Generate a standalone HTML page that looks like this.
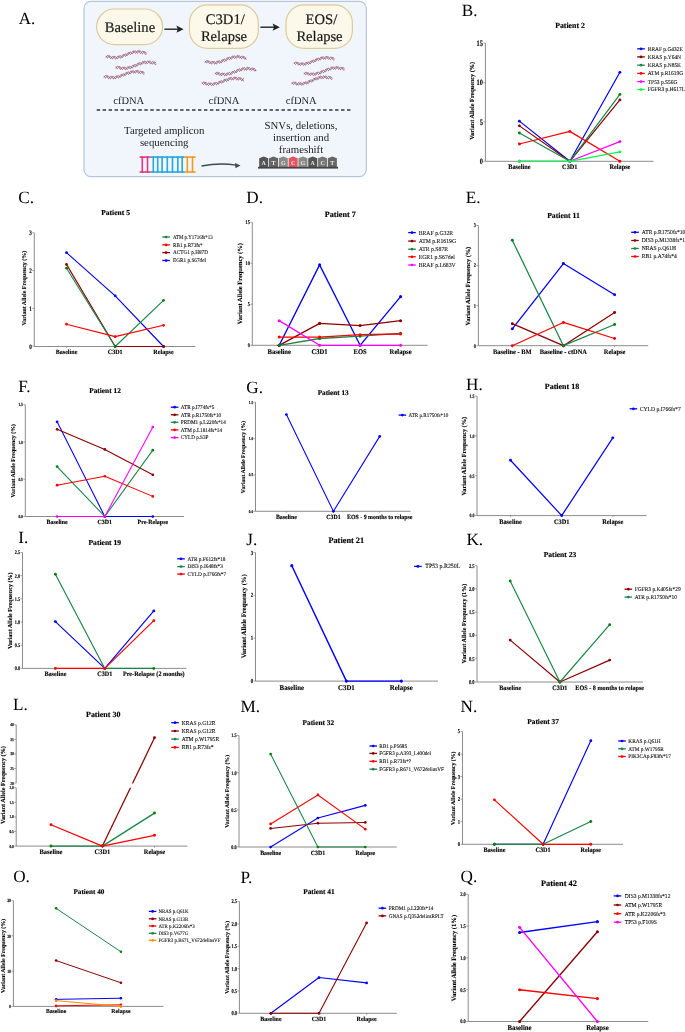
<!DOCTYPE html>
<html><head><meta charset="utf-8"><style>
html,body{margin:0;padding:0;background:#fff;}
svg{display:block;font-family:"Liberation Serif", serif;filter:blur(0.3px);}
text{text-rendering:geometricPrecision;}
</style></head><body>
<svg width="685" height="1032" viewBox="0 0 685 1032">
<rect width="685" height="1032" fill="#fff"/>
<rect x="84" y="1.3" width="282.3" height="175.3" rx="7" ry="7" fill="#f0f6fb" stroke="#b5c6dc" stroke-width="1.2"/>
<rect x="96.6" y="9" width="66" height="35.6" rx="17.8" fill="#fcf8ea" stroke="#dccb9b" stroke-width="1.2"/>
<rect x="189.5" y="4.8" width="68.8" height="43.6" rx="18" fill="#fcf8ea" stroke="#dccb9b" stroke-width="1.2"/>
<rect x="286" y="4.8" width="66.4" height="43.6" rx="18" fill="#fcf8ea" stroke="#dccb9b" stroke-width="1.2"/>
<text x="130.00" y="31.80" font-size="14.6" text-anchor="middle" fill="#1a1a1a" stroke="#1a1a1a" stroke-width="0.2">Baseline</text>
<text x="225.30" y="23.90" font-size="14.6" text-anchor="middle" fill="#1a1a1a" stroke="#1a1a1a" stroke-width="0.2">C3D1/</text>
<text x="224.00" y="40.80" font-size="14.6" text-anchor="middle" fill="#1a1a1a" stroke="#1a1a1a" stroke-width="0.2">Relapse</text>
<text x="321.40" y="23.90" font-size="14.6" text-anchor="middle" fill="#1a1a1a" stroke="#1a1a1a" stroke-width="0.2">EOS/</text>
<text x="319.50" y="40.80" font-size="14.6" text-anchor="middle" fill="#1a1a1a" stroke="#1a1a1a" stroke-width="0.2">Relapse</text>
<line x1="164.4" y1="29.2" x2="178.6" y2="29.2" stroke="#222" stroke-width="1.4"/>
<path d="M183.6,29.2 L176.4,25.599999999999998 L177.79999999999998,29.2 L176.4,32.8 Z" fill="#222"/>
<line x1="260.4" y1="27.2" x2="274.8" y2="27.2" stroke="#222" stroke-width="1.4"/>
<path d="M279.8,27.2 L272.6,23.599999999999998 L274.0,27.2 L272.6,30.8 Z" fill="#222"/>
<text x="128.70" y="103.50" font-size="10.5" text-anchor="middle" fill="#222" >cfDNA</text>
<text x="224.00" y="103.50" font-size="10.5" text-anchor="middle" fill="#222" >cfDNA</text>
<text x="301.20" y="103.50" font-size="10.5" text-anchor="middle" fill="#222" >cfDNA</text>
<line x1="96.7" y1="110" x2="351.2" y2="110" stroke="#333" stroke-width="1.5" stroke-dasharray="3.4,2.56"/>
<text x="164.20" y="134.30" font-size="10.8" text-anchor="middle" fill="#222" >Targeted amplicon</text>
<text x="164.20" y="146.20" font-size="10.8" text-anchor="middle" fill="#222" >sequencing</text>
<text x="301.00" y="128.50" font-size="10.8" text-anchor="middle" fill="#222" >SNVs, deletions,</text>
<text x="301.00" y="141.00" font-size="10.8" text-anchor="middle" fill="#222" >insertion and</text>
<text x="301.00" y="153.10" font-size="10.8" text-anchor="middle" fill="#222" >frameshift</text>
<polyline points="106.20,56.20 106.53,56.81 106.87,57.33 107.20,57.69 107.53,57.83 107.86,57.75 108.20,57.47 108.53,57.06 108.86,56.59 109.19,56.17 109.53,55.88 109.86,55.78 110.19,55.89 110.52,56.22 110.86,56.71 111.19,57.29 111.52,57.87 111.85,58.36 112.19,58.68 112.52,58.78 112.85,58.66 113.18,58.33 113.52,57.87 113.85,57.35 114.18,56.86 114.51,56.50 114.84,56.32 115.18,56.35 115.51,56.60 115.84,57.01 116.17,57.51 116.51,58.01 116.84,58.42 117.17,58.67 117.50,58.70 117.84,58.50 118.17,58.10 118.50,57.55 118.83,56.95 119.17,56.38 119.50,55.92 119.83,55.65 120.16,55.60 120.50,55.75 120.83,56.08 121.16,56.50 121.50,56.93 121.83,57.27 122.16,57.45 122.49,57.42 122.83,57.16 123.16,56.70 123.49,56.09 123.82,55.43 124.16,54.80 124.49,54.28 124.82,53.95 125.15,53.85 125.48,53.95 125.82,54.23 126.15,54.62 126.48,55.02 126.81,55.34 127.15,55.50 127.48,55.46 127.81,55.20 128.15,54.74 128.48,54.13 128.81,53.47 129.14,52.84 129.47,52.32 129.81,52.00 130.14,51.90 130.47,52.02 130.81,52.33 131.14,52.74 131.47,53.17 131.80,53.54 132.13,53.75 132.47,53.76 132.80,53.56 133.13,53.15 133.47,52.61 133.80,52.01 134.13,51.43 134.46,50.98 134.79,50.72 135.13,50.68 135.46,50.87 135.79,51.24 136.12,51.73 136.46,52.24 136.79,52.69 137.12,52.99 137.45,53.10 137.79,52.98 138.12,52.67 138.45,52.21 138.78,51.69 139.12,51.20 139.45,50.83 139.78,50.64 140.12,50.68 140.45,50.94 140.78,51.38 141.11,51.95 141.44,52.54 141.78,53.07 142.11,53.45 142.44,53.63 142.77,53.59 143.11,53.35 143.44,52.96 143.77,52.50 144.10,52.07 144.44,51.74 144.77,51.60 145.10,51.67 145.44,51.96 145.77,52.44 146.10,53.04" fill="none" stroke="#4a7db5" stroke-width="1.0" stroke-linecap="round"/>
<polyline points="106.20,57.12 106.53,56.75 106.87,56.30 107.20,55.87 107.53,55.53 107.86,55.36 108.20,55.41 108.53,55.68 108.86,56.14 109.19,56.71 109.53,57.32 109.86,57.88 110.19,58.29 110.52,58.49 110.86,58.48 111.19,58.24 111.52,57.85 111.85,57.36 112.19,56.88 112.52,56.49 112.85,56.27 113.18,56.26 113.52,56.46 113.85,56.85 114.18,57.36 114.51,57.91 114.84,58.39 115.18,58.74 115.51,58.88 115.84,58.80 116.17,58.50 116.51,58.03 116.84,57.46 117.17,56.90 117.50,56.42 117.84,56.11 118.17,56.01 118.50,56.12 118.83,56.42 119.17,56.84 119.50,57.30 119.83,57.71 120.16,57.98 120.50,58.05 120.83,57.89 121.16,57.52 121.50,56.98 121.83,56.34 122.16,55.70 122.49,55.15 122.83,54.76 123.16,54.59 123.49,54.63 123.82,54.86 124.16,55.22 124.49,55.63 124.82,55.99 125.15,56.22 125.48,56.26 125.82,56.08 126.15,55.68 126.48,55.11 126.81,54.45 127.15,53.78 127.48,53.21 127.81,52.80 128.15,52.61 128.48,52.64 128.81,52.86 129.14,53.23 129.47,53.64 129.81,54.02 130.14,54.28 130.47,54.34 130.81,54.19 131.14,53.83 131.47,53.30 131.80,52.68 132.13,52.06 132.47,51.52 132.80,51.16 133.13,51.01 133.47,51.08 133.80,51.36 134.13,51.79 134.46,52.27 134.79,52.72 135.13,53.05 135.46,53.20 135.79,53.13 136.12,52.85 136.46,52.41 136.79,51.87 137.12,51.33 137.45,50.87 137.79,50.58 138.12,50.50 138.45,50.66 138.78,51.02 139.12,51.52 139.45,52.08 139.78,52.62 140.12,53.04 140.45,53.28 140.78,53.30 141.11,53.10 141.44,52.74 141.78,52.28 142.11,51.81 142.44,51.42 142.77,51.19 143.11,51.17 143.44,51.38 143.77,51.79 144.10,52.35 144.44,52.96 144.77,53.55 145.10,54.02 145.44,54.31 145.77,54.38 146.10,54.23" fill="none" stroke="#dc414b" stroke-width="1.0" stroke-linecap="round"/>
<polyline points="116.00,67.00 116.33,67.61 116.66,68.12 117.00,68.47 117.33,68.61 117.66,68.53 117.99,68.25 118.32,67.84 118.65,67.37 118.98,66.95 119.32,66.65 119.65,66.53 119.98,66.64 120.31,66.95 120.64,67.43 120.97,68.01 121.31,68.58 121.64,69.07 121.97,69.39 122.30,69.50 122.63,69.39 122.97,69.07 123.30,68.61 123.63,68.08 123.96,67.59 124.29,67.21 124.62,67.01 124.95,67.03 125.29,67.26 125.62,67.65 125.95,68.14 126.28,68.64 126.61,69.06 126.95,69.32 127.28,69.36 127.61,69.18 127.94,68.79 128.27,68.25 128.60,67.64 128.94,67.06 129.27,66.58 129.60,66.29 129.93,66.21 130.26,66.34 130.59,66.64 130.93,67.05 131.26,67.48 131.59,67.83 131.92,68.02 132.25,68.01 132.58,67.78 132.91,67.34 133.25,66.74 133.58,66.08 133.91,65.43 134.24,64.90 134.57,64.54 134.91,64.39 135.24,64.46 135.57,64.72 135.90,65.09 136.23,65.48 136.56,65.82 136.90,66.01 137.23,66.00 137.56,65.76 137.89,65.33 138.22,64.74 138.55,64.08 138.88,63.43 139.22,62.89 139.55,62.53 139.88,62.38 140.21,62.46 140.54,62.73 140.88,63.12 141.21,63.56 141.54,63.94 141.87,64.18 142.20,64.23 142.53,64.07 142.87,63.70 143.20,63.17 143.53,62.57 143.86,61.98 144.19,61.50 144.52,61.19 144.86,61.10 145.19,61.24 145.52,61.57 145.85,62.03 146.18,62.54 146.51,63.01 146.84,63.35 147.18,63.50 147.51,63.43 147.84,63.16 148.17,62.73 148.50,62.22 148.84,61.71 149.17,61.30 149.50,61.06 149.83,61.03 150.16,61.23 150.49,61.63 150.83,62.17 151.16,62.76 151.49,63.31 151.82,63.73 152.15,63.97 152.48,63.99 152.81,63.79 153.15,63.44 153.48,62.99 153.81,62.53 154.14,62.16 154.47,61.96 154.81,61.96 155.14,62.19 155.47,62.61 155.80,63.18" fill="none" stroke="#4a7db5" stroke-width="1.0" stroke-linecap="round"/>
<polyline points="116.00,67.92 116.33,67.55 116.66,67.10 117.00,66.66 117.33,66.32 117.66,66.15 117.99,66.19 118.32,66.45 118.65,66.89 118.98,67.46 119.32,68.07 119.65,68.62 119.98,69.03 120.31,69.24 120.64,69.22 120.97,69.00 121.31,68.60 121.64,68.11 121.97,67.63 122.30,67.23 122.63,66.99 122.97,66.97 123.30,67.16 123.63,67.53 123.96,68.03 124.29,68.57 124.62,69.06 124.95,69.41 125.29,69.56 125.62,69.49 125.95,69.20 126.28,68.74 126.61,68.17 126.95,67.60 127.28,67.11 127.61,66.78 127.94,66.65 128.27,66.74 128.60,67.02 128.94,67.43 129.27,67.88 129.60,68.29 129.93,68.58 130.26,68.66 130.59,68.53 130.93,68.17 131.26,67.64 131.59,67.01 131.92,66.36 132.25,65.79 132.58,65.38 132.91,65.17 133.25,65.18 133.58,65.38 133.91,65.73 134.24,66.13 134.57,66.50 134.91,66.75 135.24,66.81 135.57,66.65 135.90,66.28 136.23,65.73 136.56,65.07 136.90,64.40 137.23,63.80 137.56,63.36 137.89,63.13 138.22,63.11 138.55,63.31 138.88,63.65 139.22,64.06 139.55,64.44 139.88,64.72 140.21,64.82 140.54,64.71 140.88,64.38 141.21,63.88 141.54,63.26 141.87,62.63 142.20,62.07 142.53,61.67 142.87,61.47 143.20,61.49 143.53,61.73 143.86,62.13 144.19,62.60 144.52,63.06 144.86,63.42 145.19,63.61 145.52,63.59 145.85,63.35 146.18,62.94 146.51,62.41 146.84,61.86 147.18,61.37 147.51,61.04 147.84,60.90 148.17,61.00 148.50,61.31 148.84,61.78 149.17,62.33 149.50,62.88 149.83,63.33 150.16,63.62 150.49,63.69 150.83,63.55 151.16,63.22 151.49,62.78 151.82,62.30 152.15,61.88 152.48,61.60 152.81,61.51 153.15,61.65 153.48,62.01 153.81,62.52 154.14,63.13 154.47,63.73 154.81,64.24 155.14,64.58 155.47,64.71 155.80,64.62" fill="none" stroke="#dc414b" stroke-width="1.0" stroke-linecap="round"/>
<polyline points="104.20,76.20 104.53,76.81 104.86,77.33 105.20,77.68 105.53,77.82 105.86,77.74 106.19,77.47 106.52,77.05 106.85,76.59 107.19,76.17 107.52,75.87 107.85,75.76 108.18,75.87 108.51,76.19 108.84,76.67 109.17,77.24 109.51,77.82 109.84,78.31 110.17,78.64 110.50,78.75 110.83,78.64 111.17,78.32 111.50,77.86 111.83,77.34 112.16,76.85 112.49,76.47 112.82,76.28 113.16,76.30 113.49,76.53 113.82,76.92 114.15,77.42 114.48,77.92 114.81,78.34 115.15,78.60 115.48,78.65 115.81,78.47 116.14,78.08 116.47,77.54 116.80,76.94 117.14,76.36 117.47,75.88 117.80,75.59 118.13,75.51 118.46,75.64 118.79,75.95 119.12,76.36 119.46,76.79 119.79,77.14 120.12,77.34 120.45,77.34 120.78,77.10 121.12,76.67 121.45,76.07 121.78,75.41 122.11,74.77 122.44,74.23 122.77,73.88 123.11,73.73 123.44,73.81 123.77,74.07 124.10,74.44 124.43,74.84 124.76,75.17 125.09,75.36 125.43,75.36 125.76,75.13 126.09,74.69 126.42,74.11 126.75,73.45 127.09,72.80 127.42,72.26 127.75,71.90 128.08,71.76 128.41,71.84 128.74,72.12 129.07,72.51 129.41,72.95 129.74,73.33 130.07,73.58 130.40,73.63 130.73,73.47 131.06,73.10 131.40,72.58 131.73,71.98 132.06,71.39 132.39,70.91 132.72,70.60 133.06,70.52 133.39,70.66 133.72,70.99 134.05,71.46 134.38,71.97 134.71,72.44 135.05,72.78 135.38,72.93 135.71,72.87 136.04,72.60 136.37,72.17 136.70,71.66 137.03,71.16 137.37,70.75 137.70,70.51 138.03,70.49 138.36,70.69 138.69,71.09 139.03,71.63 139.36,72.22 139.69,72.77 140.02,73.20 140.35,73.44 140.68,73.46 141.01,73.27 141.35,72.92 141.68,72.47 142.01,72.02 142.34,71.65 142.67,71.45 143.00,71.45 143.34,71.68 143.67,72.11 144.00,72.68" fill="none" stroke="#4a7db5" stroke-width="1.0" stroke-linecap="round"/>
<polyline points="104.20,77.12 104.53,76.75 104.86,76.30 105.20,75.87 105.53,75.53 105.86,75.36 106.19,75.40 106.52,75.67 106.85,76.11 107.19,76.69 107.52,77.29 107.85,77.85 108.18,78.26 108.51,78.47 108.84,78.46 109.17,78.23 109.51,77.84 109.84,77.36 110.17,76.87 110.50,76.48 110.83,76.24 111.17,76.22 111.50,76.41 111.83,76.79 112.16,77.29 112.49,77.83 112.82,78.32 113.16,78.68 113.49,78.83 113.82,78.76 114.15,78.48 114.48,78.01 114.81,77.45 115.15,76.89 115.48,76.40 115.81,76.07 116.14,75.94 116.47,76.03 116.80,76.31 117.14,76.72 117.47,77.18 117.80,77.60 118.13,77.88 118.46,77.97 118.79,77.84 119.12,77.49 119.46,76.96 119.79,76.33 120.12,75.68 120.45,75.12 120.78,74.70 121.12,74.50 121.45,74.51 121.78,74.71 122.11,75.06 122.44,75.47 122.77,75.84 123.11,76.09 123.44,76.15 123.77,76.00 124.10,75.63 124.43,75.08 124.76,74.43 125.09,73.76 125.43,73.16 125.76,72.72 126.09,72.49 126.42,72.48 126.75,72.68 127.09,73.02 127.42,73.43 127.75,73.82 128.08,74.10 128.41,74.20 128.74,74.09 129.07,73.77 129.41,73.27 129.74,72.66 130.07,72.03 130.40,71.47 130.73,71.07 131.06,70.87 131.40,70.90 131.73,71.14 132.06,71.54 132.39,72.01 132.72,72.48 133.06,72.84 133.39,73.03 133.72,73.01 134.05,72.78 134.38,72.36 134.71,71.84 135.05,71.29 135.38,70.81 135.71,70.47 136.04,70.34 136.37,70.44 136.70,70.75 137.03,71.23 137.37,71.78 137.70,72.33 138.03,72.79 138.36,73.07 138.69,73.15 139.03,73.01 139.36,72.69 139.69,72.25 140.02,71.77 140.35,71.35 140.68,71.07 141.01,70.99 141.35,71.13 141.68,71.49 142.01,72.01 142.34,72.62 142.67,73.22 143.00,73.73 143.34,74.08 143.67,74.21 144.00,74.12" fill="none" stroke="#dc414b" stroke-width="1.0" stroke-linecap="round"/>
<polyline points="205.30,61.30 205.64,61.92 205.98,62.45 206.32,62.80 206.66,62.92 207.00,62.82 207.34,62.51 207.67,62.08 208.01,61.60 208.35,61.19 208.69,60.92 209.03,60.86 209.37,61.03 209.71,61.41 210.05,61.94 210.39,62.54 210.73,63.11 211.07,63.56 211.41,63.81 211.74,63.83 212.08,63.62 212.42,63.22 212.76,62.71 213.10,62.19 213.44,61.74 213.78,61.46 214.12,61.39 214.46,61.54 214.80,61.90 215.14,62.38 215.48,62.91 215.81,63.38 216.15,63.70 216.49,63.82 216.83,63.70 217.17,63.35 217.51,62.83 217.85,62.22 218.19,61.63 218.53,61.13 218.87,60.82 219.21,60.73 219.55,60.86 219.88,61.17 220.22,61.60 220.56,62.04 220.90,62.41 221.24,62.61 221.58,62.59 221.92,62.34 222.26,61.88 222.60,61.26 222.94,60.59 223.28,59.95 223.62,59.44 223.95,59.13 224.29,59.05 224.63,59.19 224.97,59.50 225.31,59.90 225.65,60.30 225.99,60.60 226.33,60.73 226.67,60.63 227.01,60.30 227.35,59.78 227.69,59.13 228.02,58.46 228.36,57.84 228.70,57.39 229.04,57.14 229.38,57.13 229.72,57.34 230.06,57.71 230.40,58.14 230.74,58.56 231.08,58.85 231.42,58.96 231.75,58.84 232.09,58.51 232.43,57.99 232.77,57.38 233.11,56.77 233.45,56.25 233.79,55.90 234.13,55.78 234.47,55.90 234.81,56.22 235.15,56.69 235.49,57.20 235.82,57.67 236.16,58.00 236.50,58.13 236.84,58.04 237.18,57.73 237.52,57.26 237.86,56.72 238.20,56.21 238.54,55.81 238.88,55.60 239.22,55.63 239.56,55.88 239.90,56.33 240.23,56.90 240.57,57.49 240.91,58.01 241.25,58.37 241.59,58.51 241.93,58.43 242.27,58.14 242.61,57.72 242.95,57.24 243.29,56.81 243.63,56.51 243.97,56.41 244.30,56.55 244.64,56.91 244.98,57.44 245.32,58.07 245.66,58.69 246.00,59.20" fill="none" stroke="#4a7db5" stroke-width="1.0" stroke-linecap="round"/>
<polyline points="205.30,62.22 205.64,61.84 205.98,61.38 206.32,60.94 206.66,60.60 207.00,60.45 207.34,60.52 207.67,60.82 208.01,61.30 208.35,61.90 208.69,62.52 209.03,63.06 209.37,63.43 209.71,63.58 210.05,63.50 210.39,63.21 210.73,62.77 211.07,62.26 211.41,61.80 211.74,61.46 212.08,61.31 212.42,61.39 212.76,61.69 213.10,62.15 213.44,62.70 213.78,63.24 214.12,63.68 214.46,63.93 214.80,63.95 215.14,63.74 215.48,63.32 215.81,62.78 216.15,62.19 216.49,61.67 216.83,61.29 217.17,61.12 217.51,61.18 217.85,61.44 218.19,61.86 218.53,62.33 218.87,62.77 219.21,63.08 219.55,63.20 219.88,63.08 220.22,62.73 220.56,62.19 220.90,61.55 221.24,60.90 221.58,60.34 221.92,59.94 222.26,59.77 222.60,59.81 222.94,60.06 223.28,60.44 223.62,60.86 223.95,61.22 224.29,61.44 224.63,61.45 224.97,61.23 225.31,60.79 225.65,60.19 225.99,59.51 226.33,58.85 226.67,58.30 227.01,57.94 227.35,57.81 227.69,57.90 228.02,58.19 228.36,58.59 228.70,59.01 229.04,59.35 229.38,59.53 229.72,59.50 230.06,59.24 230.40,58.78 230.74,58.18 231.08,57.53 231.42,56.93 231.75,56.46 232.09,56.20 232.43,56.18 232.77,56.39 233.11,56.76 233.45,57.24 233.79,57.71 234.13,58.08 234.47,58.28 234.81,58.26 235.15,58.02 235.49,57.59 235.82,57.04 236.16,56.47 236.50,55.97 236.84,55.64 237.18,55.52 237.52,55.64 237.86,55.98 238.20,56.47 238.54,57.03 238.88,57.57 239.22,57.99 239.56,58.22 239.90,58.22 240.23,58.00 240.57,57.61 240.91,57.12 241.25,56.64 241.59,56.25 241.93,56.04 242.27,56.05 242.61,56.30 242.95,56.75 243.29,57.33 243.63,57.95 243.97,58.52 244.30,58.95 244.64,59.17 244.98,59.15 245.32,58.93 245.66,58.54 246.00,58.08" fill="none" stroke="#dc414b" stroke-width="1.0" stroke-linecap="round"/>
<polyline points="215.40,73.00 215.74,73.62 216.07,74.14 216.41,74.49 216.75,74.63 217.08,74.53 217.42,74.24 217.76,73.81 218.09,73.34 218.43,72.93 218.77,72.65 219.10,72.57 219.44,72.72 219.78,73.08 220.11,73.60 220.45,74.19 220.79,74.77 221.12,75.23 221.46,75.51 221.80,75.56 222.13,75.39 222.47,75.01 222.81,74.52 223.14,73.99 223.48,73.53 223.82,73.22 224.15,73.10 224.49,73.22 224.83,73.53 225.16,73.99 225.50,74.51 225.84,75.00 226.17,75.36 226.51,75.53 226.85,75.46 227.18,75.17 227.52,74.69 227.86,74.11 228.19,73.50 228.53,72.97 228.87,72.60 229.20,72.44 229.54,72.50 229.88,72.76 230.21,73.16 230.55,73.60 230.89,74.00 231.22,74.26 231.56,74.33 231.90,74.16 232.23,73.77 232.57,73.20 232.91,72.54 233.24,71.88 233.58,71.32 233.92,70.92 234.25,70.75 234.59,70.80 234.93,71.04 235.26,71.41 235.60,71.82 235.94,72.18 236.27,72.39 236.61,72.39 236.95,72.17 237.28,71.74 237.62,71.15 237.96,70.48 238.29,69.83 238.63,69.29 238.97,68.93 239.30,68.81 239.64,68.90 239.98,69.19 240.31,69.60 240.65,70.04 240.99,70.41 241.32,70.63 241.66,70.65 242.00,70.44 242.33,70.03 242.67,69.47 243.01,68.86 243.34,68.28 243.68,67.82 244.02,67.56 244.35,67.54 244.69,67.74 245.03,68.12 245.36,68.62 245.70,69.13 246.04,69.56 246.37,69.83 246.71,69.90 247.05,69.74 247.38,69.38 247.72,68.89 248.06,68.36 248.39,67.88 248.73,67.53 249.07,67.39 249.40,67.48 249.74,67.79 250.08,68.28 250.41,68.86 250.75,69.44 251.09,69.93 251.42,70.25 251.76,70.35 252.10,70.23 252.43,69.92 252.77,69.48 253.11,69.01 253.44,68.60 253.78,68.34 254.12,68.28 254.45,68.46 254.79,68.84 255.13,69.39 255.46,70.02 255.80,70.63" fill="none" stroke="#4a7db5" stroke-width="1.0" stroke-linecap="round"/>
<polyline points="215.40,73.92 215.74,73.55 216.07,73.09 216.41,72.65 216.75,72.31 217.08,72.16 217.42,72.22 217.76,72.51 218.09,72.98 218.43,73.57 218.77,74.19 219.10,74.73 219.44,75.12 219.78,75.30 220.11,75.24 220.45,74.97 220.79,74.54 221.12,74.05 221.46,73.57 221.80,73.21 222.13,73.04 222.47,73.08 222.81,73.35 223.14,73.79 223.48,74.32 223.82,74.87 224.15,75.33 224.49,75.62 224.83,75.69 225.16,75.52 225.50,75.15 225.84,74.63 226.17,74.05 226.51,73.50 226.85,73.09 227.18,72.86 227.52,72.86 227.86,73.07 228.19,73.44 228.53,73.90 228.87,74.36 229.20,74.71 229.54,74.89 229.88,74.85 230.21,74.57 230.55,74.09 230.89,73.48 231.22,72.83 231.56,72.22 231.90,71.76 232.23,71.50 232.57,71.47 232.91,71.64 233.24,71.98 233.58,72.39 233.92,72.78 234.25,73.07 234.59,73.17 234.93,73.05 235.26,72.70 235.60,72.16 235.94,71.51 236.27,70.83 236.61,70.22 236.95,69.77 237.28,69.53 237.62,69.52 237.96,69.72 238.29,70.07 238.63,70.49 238.97,70.89 239.30,71.16 239.64,71.25 239.98,71.11 240.31,70.76 240.65,70.23 240.99,69.60 241.32,68.97 241.66,68.42 242.00,68.04 242.33,67.88 242.67,67.96 243.01,68.24 243.34,68.67 243.68,69.15 244.02,69.60 244.35,69.92 244.69,70.04 245.03,69.95 245.36,69.64 245.70,69.17 246.04,68.61 246.37,68.06 246.71,67.61 247.05,67.35 247.38,67.31 247.72,67.50 248.06,67.89 248.39,68.42 248.73,68.99 249.07,69.50 249.40,69.87 249.74,70.05 250.08,70.00 250.41,69.74 250.75,69.33 251.09,68.84 251.42,68.38 251.76,68.03 252.10,67.86 252.43,67.93 252.77,68.22 253.11,68.69 253.44,69.29 253.78,69.91 254.12,70.46 254.45,70.86 254.79,71.05 255.13,71.01 255.46,70.76 255.80,70.36" fill="none" stroke="#dc414b" stroke-width="1.0" stroke-linecap="round"/>
<polyline points="202.20,82.80 202.54,83.43 202.89,83.96 203.23,84.30 203.58,84.42 203.92,84.29 204.27,83.96 204.61,83.51 204.96,83.03 205.30,82.63 205.65,82.38 205.99,82.36 206.34,82.58 206.69,83.00 207.03,83.57 207.38,84.18 207.72,84.74 208.06,85.14 208.41,85.33 208.75,85.28 209.10,84.99 209.44,84.54 209.79,84.00 210.13,83.49 210.48,83.10 210.82,82.90 211.17,82.93 211.51,83.19 211.86,83.63 212.20,84.16 212.55,84.68 212.89,85.09 213.24,85.32 213.58,85.30 213.93,85.05 214.27,84.59 214.62,84.00 214.97,83.38 215.31,82.84 215.66,82.45 216.00,82.29 216.34,82.36 216.69,82.64 217.03,83.05 217.38,83.52 217.72,83.92 218.07,84.17 218.41,84.21 218.76,84.00 219.10,83.56 219.45,82.96 219.79,82.28 220.14,81.63 220.48,81.10 220.83,80.77 221.17,80.67 221.52,80.81 221.86,81.12 222.21,81.54 222.55,81.95 222.90,82.25 223.25,82.37 223.59,82.26 223.94,81.91 224.28,81.36 224.62,80.70 224.97,80.01 225.31,79.41 225.66,78.97 226.00,78.77 226.35,78.80 226.69,79.05 227.04,79.45 227.38,79.89 227.73,80.29 228.07,80.54 228.42,80.58 228.76,80.38 229.11,79.96 229.45,79.39 229.80,78.75 230.14,78.15 230.49,77.67 230.83,77.41 231.18,77.39 231.53,77.60 231.87,78.00 232.22,78.50 232.56,79.01 232.91,79.41 233.25,79.63 233.59,79.63 233.94,79.40 234.28,78.97 234.63,78.43 234.97,77.88 235.32,77.41 235.66,77.12 236.01,77.05 236.35,77.24 236.70,77.63 237.04,78.18 237.39,78.77 237.73,79.32 238.08,79.71 238.43,79.90 238.77,79.85 239.12,79.59 239.46,79.16 239.81,78.67 240.15,78.21 240.50,77.89 240.84,77.76 241.19,77.88 241.53,78.24 241.88,78.77 242.22,79.40 242.56,80.02 242.91,80.54 243.25,80.88 243.60,80.98" fill="none" stroke="#4a7db5" stroke-width="1.0" stroke-linecap="round"/>
<polyline points="202.20,83.72 202.54,83.33 202.89,82.86 203.23,82.41 203.58,82.08 203.92,81.94 204.27,82.03 204.61,82.36 204.96,82.87 205.30,83.49 205.65,84.11 205.99,84.63 206.34,84.97 206.69,85.07 207.03,84.94 207.38,84.59 207.72,84.12 208.06,83.61 208.41,83.16 208.75,82.87 209.10,82.80 209.44,82.97 209.79,83.34 210.13,83.86 210.48,84.43 210.82,84.95 211.17,85.32 211.51,85.47 211.86,85.38 212.20,85.06 212.55,84.57 212.89,83.98 213.24,83.41 213.58,82.96 213.93,82.70 214.27,82.67 214.62,82.86 214.97,83.24 215.31,83.71 215.66,84.19 216.00,84.56 216.34,84.75 216.69,84.70 217.03,84.41 217.38,83.91 217.72,83.29 218.07,82.62 218.41,82.03 218.76,81.59 219.10,81.38 219.45,81.40 219.79,81.63 220.14,82.01 220.48,82.44 220.83,82.82 221.17,83.06 221.52,83.09 221.86,82.87 222.21,82.43 222.55,81.82 222.90,81.13 223.25,80.46 223.59,79.91 223.94,79.56 224.28,79.45 224.62,79.58 224.97,79.89 225.31,80.30 225.66,80.72 226.00,81.04 226.35,81.19 226.69,81.11 227.04,80.79 227.38,80.28 227.73,79.64 228.07,78.98 228.42,78.39 228.76,77.98 229.11,77.79 229.45,77.84 229.80,78.12 230.14,78.54 230.49,79.03 230.83,79.47 231.18,79.78 231.53,79.87 231.87,79.74 232.22,79.38 232.56,78.86 232.91,78.27 233.25,77.71 233.59,77.28 233.94,77.05 234.28,77.07 234.63,77.32 234.97,77.76 235.32,78.31 235.66,78.87 236.01,79.34 236.35,79.62 236.70,79.68 237.04,79.51 237.39,79.14 237.73,78.65 238.08,78.14 238.43,77.71 238.77,77.45 239.12,77.42 239.46,77.62 239.81,78.05 240.15,78.62 240.50,79.25 240.84,79.84 241.19,80.28 241.53,80.50 241.88,80.49 242.22,80.26 242.56,79.87 242.91,79.39 243.25,78.95 243.60,78.62" fill="none" stroke="#dc414b" stroke-width="1.0" stroke-linecap="round"/>
<polyline points="294.20,62.80 294.53,63.40 294.86,63.92 295.19,64.26 295.53,64.40 295.86,64.31 296.19,64.03 296.52,63.61 296.85,63.15 297.19,62.72 297.52,62.41 297.85,62.30 298.18,62.40 298.51,62.71 298.84,63.19 299.18,63.76 299.51,64.33 299.84,64.81 300.17,65.13 300.50,65.24 300.83,65.12 301.16,64.80 301.50,64.33 301.83,63.80 302.16,63.31 302.49,62.93 302.82,62.73 303.15,62.74 303.49,62.96 303.82,63.35 304.15,63.84 304.48,64.34 304.81,64.75 305.14,65.01 305.48,65.05 305.81,64.86 306.14,64.47 306.47,63.93 306.80,63.32 307.13,62.73 307.47,62.25 307.80,61.95 308.13,61.87 308.46,61.99 308.79,62.29 309.12,62.70 309.46,63.12 309.79,63.47 310.12,63.66 310.45,63.65 310.78,63.41 311.12,62.97 311.45,62.37 311.78,61.70 312.11,61.05 312.44,60.51 312.77,60.15 313.11,60.00 313.44,60.07 313.77,60.32 314.10,60.69 314.43,61.08 314.76,61.41 315.09,61.60 315.43,61.58 315.76,61.35 316.09,60.91 316.42,60.32 316.75,59.65 317.08,59.00 317.42,58.46 317.75,58.09 318.08,57.94 318.41,58.02 318.74,58.28 319.07,58.67 319.41,59.10 319.74,59.48 320.07,59.72 320.40,59.77 320.73,59.60 321.06,59.23 321.40,58.70 321.73,58.10 322.06,57.50 322.39,57.02 322.72,56.70 323.06,56.61 323.39,56.74 323.72,57.07 324.05,57.53 324.38,58.04 324.71,58.50 325.05,58.84 325.38,58.99 325.71,58.92 326.04,58.64 326.37,58.21 326.70,57.69 327.03,57.18 327.37,56.77 327.70,56.52 328.03,56.49 328.36,56.69 328.69,57.09 329.02,57.62 329.36,58.20 329.69,58.75 330.02,59.17 330.35,59.40 330.68,59.42 331.01,59.22 331.35,58.86 331.68,58.41 332.01,57.95 332.34,57.58 332.67,57.37 333.00,57.37 333.34,57.60 333.67,58.02 334.00,58.58" fill="none" stroke="#4a7db5" stroke-width="1.0" stroke-linecap="round"/>
<polyline points="294.20,63.72 294.53,63.35 294.86,62.89 295.19,62.45 295.53,62.10 295.86,61.93 296.19,61.97 296.52,62.22 296.85,62.67 297.19,63.23 297.52,63.84 297.85,64.38 298.18,64.79 298.51,64.99 298.84,64.98 299.18,64.75 299.51,64.35 299.84,63.86 300.17,63.37 300.50,62.97 300.83,62.73 301.16,62.70 301.50,62.88 301.83,63.25 302.16,63.75 302.49,64.29 302.82,64.77 303.15,65.12 303.49,65.27 303.82,65.19 304.15,64.90 304.48,64.43 304.81,63.87 305.14,63.29 305.48,62.80 305.81,62.46 306.14,62.33 306.47,62.42 306.80,62.69 307.13,63.10 307.47,63.55 307.80,63.96 308.13,64.24 308.46,64.32 308.79,64.18 309.12,63.82 309.46,63.29 309.79,62.65 310.12,62.00 310.45,61.43 310.78,61.01 311.12,60.80 311.45,60.80 311.78,61.01 312.11,61.35 312.44,61.75 312.77,62.11 313.11,62.36 313.44,62.41 313.77,62.25 314.10,61.88 314.43,61.32 314.76,60.67 315.09,59.99 315.43,59.39 315.76,58.95 316.09,58.71 316.42,58.69 316.75,58.88 317.08,59.22 317.42,59.62 317.75,60.01 318.08,60.28 318.41,60.38 318.74,60.26 319.07,59.93 319.41,59.42 319.74,58.81 320.07,58.17 320.40,57.61 320.73,57.20 321.06,57.00 321.40,57.02 321.73,57.26 322.06,57.65 322.39,58.12 322.72,58.57 323.06,58.93 323.39,59.12 323.72,59.09 324.05,58.85 324.38,58.43 324.71,57.90 325.05,57.35 325.38,56.86 325.71,56.52 326.04,56.38 326.37,56.48 326.70,56.78 327.03,57.25 327.37,57.80 327.70,58.34 328.03,58.79 328.36,59.07 328.69,59.15 329.02,59.00 329.36,58.67 329.69,58.22 330.02,57.74 330.35,57.31 330.68,57.03 331.01,56.94 331.35,57.08 331.68,57.43 332.01,57.94 332.34,58.55 332.67,59.14 333.00,59.65 333.34,59.99 333.67,60.11 334.00,60.02" fill="none" stroke="#dc414b" stroke-width="1.0" stroke-linecap="round"/>
<polyline points="304.30,73.00 304.63,73.60 304.96,74.12 305.30,74.46 305.63,74.60 305.96,74.51 306.29,74.23 306.62,73.81 306.95,73.34 307.29,72.91 307.62,72.60 307.95,72.49 308.28,72.59 308.61,72.90 308.94,73.38 309.28,73.94 309.61,74.52 309.94,75.00 310.27,75.32 310.60,75.43 310.93,75.30 311.26,74.98 311.60,74.51 311.93,73.99 312.26,73.49 312.59,73.10 312.92,72.90 313.25,72.92 313.59,73.14 313.92,73.53 314.25,74.02 314.58,74.51 314.91,74.93 315.25,75.18 315.58,75.22 315.91,75.03 316.24,74.64 316.57,74.10 316.90,73.48 317.24,72.90 317.57,72.42 317.90,72.12 318.23,72.03 318.56,72.16 318.89,72.46 319.23,72.86 319.56,73.28 319.89,73.63 320.22,73.82 320.55,73.81 320.88,73.57 321.22,73.13 321.55,72.53 321.88,71.86 322.21,71.21 322.54,70.67 322.87,70.30 323.21,70.15 323.54,70.22 323.87,70.47 324.20,70.84 324.53,71.23 324.86,71.56 325.19,71.74 325.53,71.73 325.86,71.49 326.19,71.05 326.52,70.46 326.85,69.79 327.19,69.14 327.52,68.60 327.85,68.23 328.18,68.08 328.51,68.16 328.84,68.42 329.18,68.81 329.51,69.24 329.84,69.62 330.17,69.86 330.50,69.90 330.83,69.73 331.17,69.36 331.50,68.83 331.83,68.23 332.16,67.63 332.49,67.15 332.82,66.83 333.16,66.74 333.49,66.87 333.82,67.20 334.15,67.66 334.48,68.16 334.81,68.63 335.15,68.96 335.48,69.11 335.81,69.04 336.14,68.76 336.47,68.33 336.80,67.81 337.13,67.30 337.47,66.88 337.80,66.64 338.13,66.61 338.46,66.80 338.79,67.20 339.12,67.73 339.46,68.32 339.79,68.86 340.12,69.28 340.45,69.51 340.78,69.53 341.12,69.33 341.45,68.97 341.78,68.52 342.11,68.06 342.44,67.68 342.77,67.47 343.11,67.47 343.44,67.70 343.77,68.12 344.10,68.68" fill="none" stroke="#4a7db5" stroke-width="1.0" stroke-linecap="round"/>
<polyline points="304.30,73.92 304.63,73.54 304.96,73.09 305.30,72.65 305.63,72.30 305.96,72.12 306.29,72.16 306.62,72.42 306.95,72.86 307.29,73.43 307.62,74.03 307.95,74.57 308.28,74.98 308.61,75.18 308.94,75.17 309.28,74.93 309.61,74.53 309.94,74.04 310.27,73.55 310.60,73.15 310.93,72.91 311.26,72.88 311.60,73.06 311.93,73.43 312.26,73.93 312.59,74.47 312.92,74.95 313.25,75.30 313.59,75.45 313.92,75.37 314.25,75.08 314.58,74.61 314.91,74.04 315.25,73.47 315.58,72.97 315.91,72.63 316.24,72.50 316.57,72.59 316.90,72.86 317.24,73.26 317.57,73.72 317.90,74.12 318.23,74.40 318.56,74.49 318.89,74.35 319.23,73.99 319.56,73.45 319.89,72.81 320.22,72.16 320.55,71.59 320.88,71.17 321.22,70.96 321.55,70.96 321.88,71.16 322.21,71.50 322.54,71.90 322.87,72.26 323.21,72.51 323.54,72.57 323.87,72.41 324.20,72.03 324.53,71.47 324.86,70.81 325.19,70.14 325.53,69.54 325.86,69.09 326.19,68.85 326.52,68.84 326.85,69.02 327.19,69.36 327.52,69.77 327.85,70.15 328.18,70.42 328.51,70.52 328.84,70.40 329.18,70.07 329.51,69.56 329.84,68.94 330.17,68.31 330.50,67.74 330.83,67.33 331.17,67.13 331.50,67.15 331.83,67.39 332.16,67.78 332.49,68.25 332.82,68.70 333.16,69.06 333.49,69.24 333.82,69.22 334.15,68.98 334.48,68.56 334.81,68.03 335.15,67.47 335.48,66.98 335.81,66.64 336.14,66.50 336.47,66.60 336.80,66.90 337.13,67.37 337.47,67.92 337.80,68.46 338.13,68.91 338.46,69.19 338.79,69.26 339.12,69.11 339.46,68.78 339.79,68.33 340.12,67.85 340.45,67.42 340.78,67.14 341.12,67.05 341.45,67.19 341.78,67.54 342.11,68.05 342.44,68.65 342.77,69.25 343.11,69.75 343.44,70.09 343.77,70.21 344.10,70.12" fill="none" stroke="#dc414b" stroke-width="1.0" stroke-linecap="round"/>
<polyline points="292.00,82.80 292.33,83.40 292.67,83.91 293.00,84.25 293.33,84.38 293.66,84.28 294.00,83.99 294.33,83.56 294.66,83.09 294.99,82.65 295.32,82.35 295.66,82.23 295.99,82.33 296.32,82.65 296.65,83.12 296.99,83.69 297.32,84.26 297.65,84.73 297.99,85.04 298.32,85.13 298.65,84.99 298.98,84.65 299.31,84.17 299.65,83.64 299.98,83.14 300.31,82.76 300.64,82.57 300.98,82.59 301.31,82.82 301.64,83.22 301.98,83.71 302.31,84.20 302.64,84.60 302.97,84.83 303.31,84.85 303.64,84.64 303.97,84.22 304.30,83.66 304.63,83.04 304.97,82.46 305.30,81.99 305.63,81.70 305.96,81.64 306.30,81.78 306.63,82.09 306.96,82.50 307.30,82.91 307.63,83.24 307.96,83.41 308.29,83.36 308.62,83.09 308.96,82.62 309.29,82.00 309.62,81.32 309.95,80.68 310.29,80.15 310.62,79.81 310.95,79.69 311.28,79.78 311.62,80.05 311.95,80.42 312.28,80.80 312.62,81.11 312.95,81.26 313.28,81.21 313.61,80.93 313.94,80.46 314.28,79.84 314.61,79.16 314.94,78.52 315.27,77.99 315.61,77.66 315.94,77.54 316.27,77.65 316.60,77.94 316.94,78.34 317.27,78.76 317.60,79.11 317.94,79.31 318.27,79.31 318.60,79.09 318.93,78.67 319.26,78.12 319.60,77.50 319.93,76.91 320.26,76.45 320.59,76.17 320.93,76.12 321.26,76.30 321.59,76.65 321.92,77.13 322.26,77.63 322.59,78.06 322.92,78.35 323.25,78.44 323.59,78.31 323.92,77.99 324.25,77.52 324.58,76.99 324.92,76.48 325.25,76.10 325.58,75.90 325.91,75.92 326.25,76.17 326.58,76.60 326.91,77.15 327.25,77.73 327.58,78.24 327.91,78.61 328.24,78.78 328.57,78.73 328.91,78.47 329.24,78.07 329.57,77.60 329.90,77.15 330.24,76.81 330.57,76.65 330.90,76.71 331.23,76.99 331.57,77.46 331.90,78.04" fill="none" stroke="#4a7db5" stroke-width="1.0" stroke-linecap="round"/>
<polyline points="292.00,83.72 292.33,83.34 292.67,82.88 293.00,82.43 293.33,82.08 293.66,81.90 294.00,81.93 294.33,82.19 294.66,82.63 294.99,83.19 295.32,83.79 295.66,84.33 295.99,84.73 296.32,84.92 296.65,84.89 296.99,84.64 297.32,84.23 297.65,83.74 297.99,83.24 298.32,82.84 298.65,82.60 298.98,82.58 299.31,82.77 299.65,83.14 299.98,83.64 300.31,84.17 300.64,84.65 300.98,84.98 301.31,85.11 301.64,85.01 301.98,84.70 302.31,84.21 302.64,83.64 302.97,83.06 303.31,82.57 303.64,82.24 303.97,82.13 304.30,82.23 304.63,82.51 304.97,82.92 305.30,83.37 305.63,83.76 305.96,84.02 306.30,84.08 306.63,83.91 306.96,83.52 307.30,82.97 307.63,82.32 307.96,81.66 308.29,81.10 308.62,80.70 308.96,80.51 309.29,80.53 309.62,80.75 309.95,81.10 310.29,81.50 310.62,81.85 310.95,82.06 311.28,82.09 311.62,81.89 311.95,81.48 312.28,80.89 312.62,80.22 312.95,79.54 313.28,78.96 313.61,78.53 313.94,78.33 314.28,78.34 314.61,78.56 314.94,78.91 315.27,79.31 315.61,79.68 315.94,79.92 316.27,79.97 316.60,79.80 316.94,79.43 317.27,78.89 317.60,78.25 317.94,77.62 318.27,77.07 318.60,76.69 318.93,76.53 319.26,76.59 319.60,76.86 319.93,77.27 320.26,77.74 320.59,78.17 320.93,78.49 321.26,78.62 321.59,78.54 321.92,78.25 322.26,77.79 322.59,77.24 322.92,76.69 323.25,76.22 323.59,75.91 323.92,75.82 324.25,75.96 324.58,76.31 324.92,76.80 325.25,77.35 325.58,77.87 325.91,78.28 326.25,78.50 326.58,78.51 326.91,78.30 327.25,77.93 327.58,77.45 327.91,76.97 328.24,76.57 328.57,76.32 328.91,76.29 329.24,76.49 329.57,76.88 329.90,77.43 330.24,78.03 330.57,78.61 330.90,79.06 331.23,79.34 331.57,79.39 331.90,79.23" fill="none" stroke="#dc414b" stroke-width="1.0" stroke-linecap="round"/>
<rect x="139.6" y="156.3" width="11.099999999999994" height="1.6" fill="#e2367f"/>
<rect x="139.6" y="171.20000000000002" width="11.099999999999994" height="1.6" fill="#e2367f"/>
<rect x="150.7" y="156.3" width="34.0" height="1.6" fill="#27a6e0"/>
<rect x="150.7" y="171.20000000000002" width="34.0" height="1.6" fill="#27a6e0"/>
<rect x="184.7" y="156.3" width="11.0" height="1.6" fill="#f39a1f"/>
<rect x="184.7" y="171.20000000000002" width="11.0" height="1.6" fill="#f39a1f"/>
<rect x="141.5" y="156.3" width="1.6" height="16.5" fill="#e2367f"/>
<rect x="146.7" y="156.3" width="1.6" height="16.5" fill="#e2367f"/>
<rect x="152.5" y="156.3" width="1.6" height="16.5" fill="#27a6e0"/>
<rect x="156.89999999999998" y="156.3" width="1.6" height="16.5" fill="#27a6e0"/>
<rect x="161.29999999999998" y="156.3" width="1.6" height="16.5" fill="#27a6e0"/>
<rect x="166.5" y="156.3" width="1.6" height="16.5" fill="#27a6e0"/>
<rect x="171.7" y="156.3" width="1.6" height="16.5" fill="#27a6e0"/>
<rect x="177.0" y="156.3" width="1.6" height="16.5" fill="#27a6e0"/>
<rect x="181.39999999999998" y="156.3" width="1.6" height="16.5" fill="#27a6e0"/>
<rect x="186.5" y="156.3" width="1.6" height="16.5" fill="#f39a1f"/>
<rect x="191.7" y="156.3" width="1.6" height="16.5" fill="#f39a1f"/>
<path d="M201.5,166 Q220,162.5 236,165.2" fill="none" stroke="#3f4b4b" stroke-width="1.3"/>
<path d="M240.5,165.6 L235,163 L235.5,168.2 Z" fill="#3f4b4b"/>
<path d="M259.2,158.2 L263.705,156.4 L268.21,158.2 L268.21,167 L259.2,167 Z" fill="#555"/>
<text x="263.70" y="164.80" font-size="6" font-weight="bold" text-anchor="middle" fill="#e8e8e8" >A</text>
<path d="M269.01,158.2 L273.515,156.4 L278.02,158.2 L278.02,167 L269.01,167 Z" fill="#666"/>
<text x="273.51" y="164.80" font-size="6" font-weight="bold" text-anchor="middle" fill="#e8e8e8" >T</text>
<path d="M278.82,158.2 L283.325,156.4 L287.83,158.2 L287.83,167 L278.82,167 Z" fill="#8a8a8a"/>
<text x="283.32" y="164.80" font-size="6" font-weight="bold" text-anchor="middle" fill="#e8e8e8" >G</text>
<path d="M288.63,158.2 L293.135,156.4 L297.64,158.2 L297.64,167 L288.63,167 Z" fill="#e8535d"/>
<text x="293.13" y="164.80" font-size="6" font-weight="bold" text-anchor="middle" fill="#e8e8e8" >C</text>
<path d="M298.44,158.2 L302.945,156.4 L307.45,158.2 L307.45,167 L298.44,167 Z" fill="#8a8a8a"/>
<text x="302.94" y="164.80" font-size="6" font-weight="bold" text-anchor="middle" fill="#e8e8e8" >G</text>
<path d="M308.25,158.2 L312.755,156.4 L317.26,158.2 L317.26,167 L308.25,167 Z" fill="#555"/>
<text x="312.75" y="164.80" font-size="6" font-weight="bold" text-anchor="middle" fill="#e8e8e8" >A</text>
<path d="M318.06,158.2 L322.565,156.4 L327.07,158.2 L327.07,167 L318.06,167 Z" fill="#777"/>
<text x="322.56" y="164.80" font-size="6" font-weight="bold" text-anchor="middle" fill="#e8e8e8" >C</text>
<path d="M327.87,158.2 L332.375,156.4 L336.88,158.2 L336.88,167 L327.87,167 Z" fill="#666"/>
<text x="332.38" y="164.80" font-size="6" font-weight="bold" text-anchor="middle" fill="#e8e8e8" >T</text>
<rect x="258" y="166.8" width="80" height="1.8" fill="#444"/>
<text x="570.00" y="28.10" font-size="7.8" font-weight="bold" text-anchor="middle" fill="#000" stroke="#000" stroke-width="0.15">Patient 2</text>
<line x1="485.4" y1="43.2" x2="485.4" y2="161.3" stroke="#6e6e6e" stroke-width="0.8"/>
<line x1="485.4" y1="161.3" x2="653.5" y2="161.3" stroke="#6e6e6e" stroke-width="0.8"/>
<line x1="483.4" y1="161.3" x2="485.4" y2="161.3" stroke="#6e6e6e" stroke-width="0.6"/>
<text transform="translate(483.00,164.13) scale(1,1.3)" font-size="6.4" font-weight="bold" text-anchor="end" fill="#111" stroke="#111" stroke-width="0.14">0</text>
<line x1="483.4" y1="121.93333333333334" x2="485.4" y2="121.93333333333334" stroke="#6e6e6e" stroke-width="0.6"/>
<text transform="translate(483.00,124.76) scale(1,1.3)" font-size="6.4" font-weight="bold" text-anchor="end" fill="#111" stroke="#111" stroke-width="0.14">5</text>
<line x1="483.4" y1="82.56666666666668" x2="485.4" y2="82.56666666666668" stroke="#6e6e6e" stroke-width="0.6"/>
<text transform="translate(483.00,85.40) scale(1,1.3)" font-size="6.4" font-weight="bold" text-anchor="end" fill="#111" stroke="#111" stroke-width="0.14">10</text>
<line x1="483.4" y1="43.2" x2="485.4" y2="43.2" stroke="#6e6e6e" stroke-width="0.6"/>
<text transform="translate(483.00,46.03) scale(1,1.3)" font-size="6.4" font-weight="bold" text-anchor="end" fill="#111" stroke="#111" stroke-width="0.14">15</text>
<line x1="519.4" y1="161.3" x2="519.4" y2="162.8" stroke="#6e6e6e" stroke-width="0.6"/>
<text transform="translate(519.40,169.20) scale(1,1.07)" font-size="6.3" font-weight="bold" text-anchor="middle" fill="#000" stroke="#000" stroke-width="0.12">Baseline</text>
<line x1="569.8" y1="161.3" x2="569.8" y2="162.8" stroke="#6e6e6e" stroke-width="0.6"/>
<text transform="translate(569.80,169.20) scale(1,1.07)" font-size="6.3" font-weight="bold" text-anchor="middle" fill="#000" stroke="#000" stroke-width="0.12">C3D1</text>
<line x1="619.9" y1="161.3" x2="619.9" y2="162.8" stroke="#6e6e6e" stroke-width="0.6"/>
<text transform="translate(619.90,169.20) scale(1,1.07)" font-size="6.3" font-weight="bold" text-anchor="middle" fill="#000" stroke="#000" stroke-width="0.12">Relapse</text>
<text x="0.00" y="0.00" font-size="6.2" font-weight="bold" text-anchor="middle" fill="#000" stroke="#000" stroke-width="0.12" transform="translate(474.13,100.90) rotate(-90)">Variant Allele Frequency (%)</text>
<polyline points="519.40,121.15 569.80,161.30 619.90,72.33" fill="none" stroke="#0000ff" stroke-width="1.20" stroke-linejoin="round"/>
<circle cx="519.40" cy="121.15" r="1.45" fill="#0000ff"/>
<circle cx="569.80" cy="161.30" r="1.45" fill="#0000ff"/>
<circle cx="619.90" cy="72.33" r="1.45" fill="#0000ff"/>
<polyline points="519.40,125.87 569.80,161.30 619.90,99.89" fill="none" stroke="#8b0000" stroke-width="1.20" stroke-linejoin="round"/>
<circle cx="519.40" cy="125.87" r="1.45" fill="#8b0000"/>
<circle cx="569.80" cy="161.30" r="1.45" fill="#8b0000"/>
<circle cx="619.90" cy="99.89" r="1.45" fill="#8b0000"/>
<polyline points="519.40,132.96 569.80,161.30 619.90,94.38" fill="none" stroke="#1a8546" stroke-width="1.20" stroke-linejoin="round"/>
<circle cx="519.40" cy="132.96" r="1.45" fill="#047f10"/>
<circle cx="569.80" cy="161.30" r="1.45" fill="#047f10"/>
<circle cx="619.90" cy="94.38" r="1.45" fill="#047f10"/>
<polyline points="519.40,143.98 569.80,131.38 619.90,161.30" fill="none" stroke="#ff0000" stroke-width="1.20" stroke-linejoin="round"/>
<circle cx="519.40" cy="143.98" r="1.45" fill="#ff0000"/>
<circle cx="569.80" cy="131.38" r="1.45" fill="#ff0000"/>
<circle cx="619.90" cy="161.30" r="1.45" fill="#ff0000"/>
<polyline points="519.40,161.30 569.80,161.30 619.90,141.62" fill="none" stroke="#ff00ff" stroke-width="1.20" stroke-linejoin="round"/>
<circle cx="519.40" cy="161.30" r="1.45" fill="#ff00ff"/>
<circle cx="569.80" cy="161.30" r="1.45" fill="#ff00ff"/>
<circle cx="619.90" cy="141.62" r="1.45" fill="#ff00ff"/>
<polyline points="519.40,161.30 569.80,161.30 619.90,151.85" fill="none" stroke="#00ff44" stroke-width="1.20" stroke-linejoin="round"/>
<circle cx="519.40" cy="161.30" r="1.45" fill="#00ff44"/>
<circle cx="569.80" cy="161.30" r="1.45" fill="#00ff44"/>
<circle cx="619.90" cy="151.85" r="1.45" fill="#00ff44"/>
<line x1="637.2" y1="48.8" x2="644.8" y2="48.8" stroke="#0000ff" stroke-width="1.3"/>
<circle cx="641" cy="48.8" r="1.35" fill="#0000ff"/>
<text transform="translate(647.80,50.71) scale(1,1.07)" font-size="5.45" text-anchor="start" fill="#111" stroke="#111" stroke-width="0.1">BRAF p.G432E</text>
<line x1="637.2" y1="56.9" x2="644.8" y2="56.9" stroke="#8b0000" stroke-width="1.3"/>
<circle cx="641" cy="56.9" r="1.35" fill="#8b0000"/>
<text transform="translate(647.80,58.81) scale(1,1.07)" font-size="5.45" text-anchor="start" fill="#111" stroke="#111" stroke-width="0.1">KRAS p.Y64N</text>
<line x1="637.2" y1="65.2" x2="644.8" y2="65.2" stroke="#1a8546" stroke-width="1.3"/>
<circle cx="641" cy="65.2" r="1.35" fill="#1a8546"/>
<text transform="translate(647.80,67.11) scale(1,1.07)" font-size="5.45" text-anchor="start" fill="#111" stroke="#111" stroke-width="0.1">KRAS p.N85K</text>
<line x1="637.2" y1="73.4" x2="644.8" y2="73.4" stroke="#ff0000" stroke-width="1.3"/>
<circle cx="641" cy="73.4" r="1.35" fill="#ff0000"/>
<text transform="translate(647.80,75.31) scale(1,1.07)" font-size="5.45" text-anchor="start" fill="#111" stroke="#111" stroke-width="0.1">ATM p.R1619G</text>
<line x1="637.2" y1="81.6" x2="644.8" y2="81.6" stroke="#ff00ff" stroke-width="1.3"/>
<circle cx="641" cy="81.6" r="1.35" fill="#ff00ff"/>
<text transform="translate(647.80,83.51) scale(1,1.07)" font-size="5.45" text-anchor="start" fill="#111" stroke="#111" stroke-width="0.1">TP53 p.S56G</text>
<line x1="637.2" y1="89.5" x2="644.8" y2="89.5" stroke="#00ff44" stroke-width="1.3"/>
<circle cx="641" cy="89.5" r="1.35" fill="#00ff44"/>
<text transform="translate(647.80,91.41) scale(1,1.07)" font-size="5.45" text-anchor="start" fill="#111" stroke="#111" stroke-width="0.1">FGFR3 p.H617L</text>
<text x="115.55" y="215.00" font-size="7.56" font-weight="bold" text-anchor="middle" fill="#000" stroke="#000" stroke-width="0.15">Patient 5</text>
<line x1="34.3" y1="232.7" x2="34.3" y2="346.5" stroke="#6e6e6e" stroke-width="0.8"/>
<line x1="34.3" y1="346.5" x2="195.4" y2="346.5" stroke="#6e6e6e" stroke-width="0.8"/>
<line x1="32.3" y1="346.2" x2="34.3" y2="346.2" stroke="#6e6e6e" stroke-width="0.6"/>
<text transform="translate(31.90,348.50) scale(1,1.3)" font-size="5.2" font-weight="bold" text-anchor="end" fill="#111" stroke="#111" stroke-width="0.14">0</text>
<line x1="32.3" y1="308.3666666666667" x2="34.3" y2="308.3666666666667" stroke="#6e6e6e" stroke-width="0.6"/>
<text transform="translate(31.90,310.67) scale(1,1.3)" font-size="5.2" font-weight="bold" text-anchor="end" fill="#111" stroke="#111" stroke-width="0.14">1</text>
<line x1="32.3" y1="270.5333333333333" x2="34.3" y2="270.5333333333333" stroke="#6e6e6e" stroke-width="0.6"/>
<text transform="translate(31.90,272.83) scale(1,1.3)" font-size="5.2" font-weight="bold" text-anchor="end" fill="#111" stroke="#111" stroke-width="0.14">2</text>
<line x1="32.3" y1="232.7" x2="34.3" y2="232.7" stroke="#6e6e6e" stroke-width="0.6"/>
<text transform="translate(31.90,235.00) scale(1,1.3)" font-size="5.2" font-weight="bold" text-anchor="end" fill="#111" stroke="#111" stroke-width="0.14">3</text>
<line x1="66.5" y1="346.5" x2="66.5" y2="348.0" stroke="#6e6e6e" stroke-width="0.6"/>
<text transform="translate(66.50,354.00) scale(1,1.07)" font-size="6.1" font-weight="bold" text-anchor="middle" fill="#000" stroke="#000" stroke-width="0.12">Baseline</text>
<line x1="115.2" y1="346.5" x2="115.2" y2="348.0" stroke="#6e6e6e" stroke-width="0.6"/>
<text transform="translate(115.20,354.00) scale(1,1.07)" font-size="6.1" font-weight="bold" text-anchor="middle" fill="#000" stroke="#000" stroke-width="0.12">C3D1</text>
<line x1="163.5" y1="346.5" x2="163.5" y2="348.0" stroke="#6e6e6e" stroke-width="0.6"/>
<text transform="translate(163.50,354.00) scale(1,1.07)" font-size="6.1" font-weight="bold" text-anchor="middle" fill="#000" stroke="#000" stroke-width="0.12">Relapse</text>
<text x="0.00" y="0.00" font-size="5.95" font-weight="bold" text-anchor="middle" fill="#000" stroke="#000" stroke-width="0.12" transform="translate(26.25,288.20) rotate(-90)">Variant Allele Frequency (%)</text>
<polyline points="66.50,252.67 115.20,295.80 163.50,346.50" fill="none" stroke="#0000ff" stroke-width="1.13" stroke-linejoin="round"/>
<circle cx="66.50" cy="252.67" r="1.40" fill="#0000ff"/>
<circle cx="115.20" cy="295.80" r="1.40" fill="#0000ff"/>
<circle cx="163.50" cy="346.50" r="1.40" fill="#0000ff"/>
<polyline points="66.50,264.40 115.20,346.50 163.50,346.50" fill="none" stroke="#8b0000" stroke-width="1.13" stroke-linejoin="round"/>
<circle cx="66.50" cy="264.40" r="1.40" fill="#8b0000"/>
<circle cx="115.20" cy="346.50" r="1.40" fill="#8b0000"/>
<circle cx="163.50" cy="346.50" r="1.40" fill="#8b0000"/>
<polyline points="66.50,268.19 115.20,346.50 163.50,300.34" fill="none" stroke="#1a8546" stroke-width="1.13" stroke-linejoin="round"/>
<circle cx="66.50" cy="268.19" r="1.40" fill="#047f10"/>
<circle cx="115.20" cy="346.50" r="1.40" fill="#047f10"/>
<circle cx="163.50" cy="300.34" r="1.40" fill="#047f10"/>
<polyline points="66.50,324.18 115.20,336.66 163.50,325.31" fill="none" stroke="#ff0000" stroke-width="1.13" stroke-linejoin="round"/>
<circle cx="66.50" cy="324.18" r="1.40" fill="#ff0000"/>
<circle cx="115.20" cy="336.66" r="1.40" fill="#ff0000"/>
<circle cx="163.50" cy="325.31" r="1.40" fill="#ff0000"/>
<line x1="162.29999999999998" y1="237" x2="169.9" y2="237" stroke="#1a8546" stroke-width="1.3"/>
<circle cx="166.1" cy="237" r="1.35" fill="#1a8546"/>
<text transform="translate(173.00,238.84) scale(1,1.07)" font-size="5.25" text-anchor="start" fill="#111" stroke="#111" stroke-width="0.1" textLength="39.6" lengthAdjust="spacingAndGlyphs">ATM p.Y1716fs*13</text>
<line x1="162.29999999999998" y1="244.9" x2="169.9" y2="244.9" stroke="#ff0000" stroke-width="1.3"/>
<circle cx="166.1" cy="244.9" r="1.35" fill="#ff0000"/>
<text transform="translate(173.00,246.74) scale(1,1.07)" font-size="5.25" text-anchor="start" fill="#111" stroke="#111" stroke-width="0.1" textLength="29.6" lengthAdjust="spacingAndGlyphs">RB1 p.R73fs*</text>
<line x1="162.29999999999998" y1="252.6" x2="169.9" y2="252.6" stroke="#8b0000" stroke-width="1.3"/>
<circle cx="166.1" cy="252.6" r="1.35" fill="#8b0000"/>
<text transform="translate(173.00,254.44) scale(1,1.07)" font-size="5.25" text-anchor="start" fill="#111" stroke="#111" stroke-width="0.1">ACTG1 p.H87D</text>
<line x1="162.29999999999998" y1="260.5" x2="169.9" y2="260.5" stroke="#0000ff" stroke-width="1.3"/>
<circle cx="166.1" cy="260.5" r="1.35" fill="#0000ff"/>
<text transform="translate(173.00,262.34) scale(1,1.07)" font-size="5.25" text-anchor="start" fill="#111" stroke="#111" stroke-width="0.1">EGR1 p.S67del</text>
<text x="340.30" y="217.40" font-size="8.12" font-weight="bold" text-anchor="middle" fill="#000" stroke="#000" stroke-width="0.15">Patient 7</text>
<line x1="252.3" y1="222.2" x2="252.3" y2="345.3" stroke="#6e6e6e" stroke-width="0.8"/>
<line x1="252.3" y1="345.3" x2="427.7" y2="345.3" stroke="#6e6e6e" stroke-width="0.8"/>
<line x1="250.3" y1="345.3" x2="252.3" y2="345.3" stroke="#6e6e6e" stroke-width="0.6"/>
<text transform="translate(249.90,347.20) scale(1,1.3)" font-size="4.3" font-weight="bold" text-anchor="end" fill="#111" stroke="#111" stroke-width="0.14">0</text>
<line x1="250.3" y1="304.26666666666665" x2="252.3" y2="304.26666666666665" stroke="#6e6e6e" stroke-width="0.6"/>
<text transform="translate(249.90,306.17) scale(1,1.3)" font-size="4.3" font-weight="bold" text-anchor="end" fill="#111" stroke="#111" stroke-width="0.14">5</text>
<line x1="250.3" y1="263.23333333333335" x2="252.3" y2="263.23333333333335" stroke="#6e6e6e" stroke-width="0.6"/>
<text transform="translate(249.90,265.13) scale(1,1.3)" font-size="4.3" font-weight="bold" text-anchor="end" fill="#111" stroke="#111" stroke-width="0.14">10</text>
<line x1="250.3" y1="222.2" x2="252.3" y2="222.2" stroke="#6e6e6e" stroke-width="0.6"/>
<text transform="translate(249.90,224.10) scale(1,1.3)" font-size="4.3" font-weight="bold" text-anchor="end" fill="#111" stroke="#111" stroke-width="0.14">15</text>
<line x1="279.2" y1="345.3" x2="279.2" y2="346.8" stroke="#6e6e6e" stroke-width="0.6"/>
<text transform="translate(279.20,353.60) scale(1,1.07)" font-size="6.6" font-weight="bold" text-anchor="middle" fill="#000" stroke="#000" stroke-width="0.12">Baseline</text>
<line x1="319.6" y1="345.3" x2="319.6" y2="346.8" stroke="#6e6e6e" stroke-width="0.6"/>
<text transform="translate(319.60,353.60) scale(1,1.07)" font-size="6.6" font-weight="bold" text-anchor="middle" fill="#000" stroke="#000" stroke-width="0.12">C3D1</text>
<line x1="360.1" y1="345.3" x2="360.1" y2="346.8" stroke="#6e6e6e" stroke-width="0.6"/>
<text transform="translate(360.10,353.60) scale(1,1.07)" font-size="6.6" font-weight="bold" text-anchor="middle" fill="#000" stroke="#000" stroke-width="0.12">EOS</text>
<line x1="400.6" y1="345.3" x2="400.6" y2="346.8" stroke="#6e6e6e" stroke-width="0.6"/>
<text transform="translate(400.60,353.60) scale(1,1.07)" font-size="6.6" font-weight="bold" text-anchor="middle" fill="#000" stroke="#000" stroke-width="0.12">Relapse</text>
<text x="0.00" y="0.00" font-size="6.45" font-weight="bold" text-anchor="middle" fill="#000" stroke="#000" stroke-width="0.12" transform="translate(242.31,283.70) rotate(-90)">Variant Allele Frequency (%)</text>
<polyline points="279.20,345.30 319.60,264.87 360.10,345.30 400.60,296.63" fill="none" stroke="#0000ff" stroke-width="1.32" stroke-linejoin="round"/>
<circle cx="279.20" cy="345.30" r="1.52" fill="#0000ff"/>
<circle cx="319.60" cy="264.87" r="1.52" fill="#0000ff"/>
<circle cx="360.10" cy="345.30" r="1.52" fill="#0000ff"/>
<circle cx="400.60" cy="296.63" r="1.52" fill="#0000ff"/>
<polyline points="279.20,345.30 319.60,323.39 360.10,325.60 400.60,320.68" fill="none" stroke="#8b0000" stroke-width="1.32" stroke-linejoin="round"/>
<circle cx="279.20" cy="345.30" r="1.52" fill="#8b0000"/>
<circle cx="319.60" cy="323.39" r="1.52" fill="#8b0000"/>
<circle cx="360.10" cy="325.60" r="1.52" fill="#8b0000"/>
<circle cx="400.60" cy="320.68" r="1.52" fill="#8b0000"/>
<polyline points="279.20,345.30 319.60,338.49 360.10,336.11 400.60,333.32" fill="none" stroke="#1a8546" stroke-width="1.32" stroke-linejoin="round"/>
<circle cx="279.20" cy="345.30" r="1.52" fill="#047f10"/>
<circle cx="319.60" cy="338.49" r="1.52" fill="#047f10"/>
<circle cx="360.10" cy="336.11" r="1.52" fill="#047f10"/>
<circle cx="400.60" cy="333.32" r="1.52" fill="#047f10"/>
<polyline points="279.20,337.09 319.60,337.09 360.10,334.71 400.60,333.97" fill="none" stroke="#ff0000" stroke-width="1.32" stroke-linejoin="round"/>
<circle cx="279.20" cy="337.09" r="1.52" fill="#ff0000"/>
<circle cx="319.60" cy="337.09" r="1.52" fill="#ff0000"/>
<circle cx="360.10" cy="334.71" r="1.52" fill="#ff0000"/>
<circle cx="400.60" cy="333.97" r="1.52" fill="#ff0000"/>
<polyline points="279.20,320.68 319.60,345.30 360.10,345.30 400.60,345.30" fill="none" stroke="#ff00ff" stroke-width="1.32" stroke-linejoin="round"/>
<circle cx="279.20" cy="320.68" r="1.52" fill="#ff00ff"/>
<circle cx="319.60" cy="345.30" r="1.52" fill="#ff00ff"/>
<circle cx="360.10" cy="345.30" r="1.52" fill="#ff00ff"/>
<circle cx="400.60" cy="345.30" r="1.52" fill="#ff00ff"/>
<line x1="408.2" y1="232.6" x2="415.8" y2="232.6" stroke="#0000ff" stroke-width="1.3"/>
<circle cx="412" cy="232.6" r="1.35" fill="#0000ff"/>
<text transform="translate(418.70,234.61) scale(1,1.07)" font-size="5.75" text-anchor="start" fill="#111" stroke="#111" stroke-width="0.1">BRAF p.G32R</text>
<line x1="408.2" y1="241.1" x2="415.8" y2="241.1" stroke="#8b0000" stroke-width="1.3"/>
<circle cx="412" cy="241.1" r="1.35" fill="#8b0000"/>
<text transform="translate(418.70,243.11) scale(1,1.07)" font-size="5.75" text-anchor="start" fill="#111" stroke="#111" stroke-width="0.1">ATM p.R1619G</text>
<line x1="408.2" y1="249.2" x2="415.8" y2="249.2" stroke="#1a8546" stroke-width="1.3"/>
<circle cx="412" cy="249.2" r="1.35" fill="#1a8546"/>
<text transform="translate(418.70,251.21) scale(1,1.07)" font-size="5.75" text-anchor="start" fill="#111" stroke="#111" stroke-width="0.1">ATR p.S87R</text>
<line x1="408.2" y1="256.8" x2="415.8" y2="256.8" stroke="#ff0000" stroke-width="1.3"/>
<circle cx="412" cy="256.8" r="1.35" fill="#ff0000"/>
<text transform="translate(418.70,258.81) scale(1,1.07)" font-size="5.75" text-anchor="start" fill="#111" stroke="#111" stroke-width="0.1">EGR1 p.S67del</text>
<line x1="408.2" y1="265.0" x2="415.8" y2="265.0" stroke="#ff00ff" stroke-width="1.3"/>
<circle cx="412" cy="265.0" r="1.35" fill="#ff00ff"/>
<text transform="translate(418.70,267.01) scale(1,1.07)" font-size="5.75" text-anchor="start" fill="#111" stroke="#111" stroke-width="0.1">BRAF p.L683V</text>
<text x="563.50" y="218.10" font-size="7.7" font-weight="bold" text-anchor="middle" fill="#000" stroke="#000" stroke-width="0.15">Patient 11</text>
<line x1="478.4" y1="225.5" x2="478.4" y2="345.7" stroke="#6e6e6e" stroke-width="0.8"/>
<line x1="478.4" y1="345.7" x2="648.2" y2="345.7" stroke="#6e6e6e" stroke-width="0.8"/>
<line x1="476.4" y1="345.7" x2="478.4" y2="345.7" stroke="#6e6e6e" stroke-width="0.6"/>
<text transform="translate(476.00,347.60) scale(1,1.3)" font-size="4.3" font-weight="bold" text-anchor="end" fill="#111" stroke="#111" stroke-width="0.14">0</text>
<line x1="476.4" y1="305.6333333333333" x2="478.4" y2="305.6333333333333" stroke="#6e6e6e" stroke-width="0.6"/>
<text transform="translate(476.00,307.53) scale(1,1.3)" font-size="4.3" font-weight="bold" text-anchor="end" fill="#111" stroke="#111" stroke-width="0.14">1</text>
<line x1="476.4" y1="265.56666666666666" x2="478.4" y2="265.56666666666666" stroke="#6e6e6e" stroke-width="0.6"/>
<text transform="translate(476.00,267.47) scale(1,1.3)" font-size="4.3" font-weight="bold" text-anchor="end" fill="#111" stroke="#111" stroke-width="0.14">2</text>
<line x1="476.4" y1="225.5" x2="478.4" y2="225.5" stroke="#6e6e6e" stroke-width="0.6"/>
<text transform="translate(476.00,227.40) scale(1,1.3)" font-size="4.3" font-weight="bold" text-anchor="end" fill="#111" stroke="#111" stroke-width="0.14">3</text>
<line x1="512.3" y1="345.7" x2="512.3" y2="347.2" stroke="#6e6e6e" stroke-width="0.6"/>
<text transform="translate(512.30,354.00) scale(1,1.07)" font-size="6.45" font-weight="bold" text-anchor="middle" fill="#000" stroke="#000" stroke-width="0.12">Baseline - BM</text>
<line x1="563.4" y1="345.7" x2="563.4" y2="347.2" stroke="#6e6e6e" stroke-width="0.6"/>
<text transform="translate(563.40,354.00) scale(1,1.07)" font-size="6.45" font-weight="bold" text-anchor="middle" fill="#000" stroke="#000" stroke-width="0.12">Baseline - ctDNA</text>
<line x1="614.6" y1="345.7" x2="614.6" y2="347.2" stroke="#6e6e6e" stroke-width="0.6"/>
<text transform="translate(614.60,354.00) scale(1,1.07)" font-size="6.45" font-weight="bold" text-anchor="middle" fill="#000" stroke="#000" stroke-width="0.12">Relapse</text>
<text x="0.00" y="0.00" font-size="6.25" font-weight="bold" text-anchor="middle" fill="#000" stroke="#000" stroke-width="0.12" transform="translate(470.35,286.20) rotate(-90)">Variant Allele Frequency (%)</text>
<polyline points="512.30,328.87 563.40,263.56 614.60,294.82" fill="none" stroke="#0000ff" stroke-width="1.26" stroke-linejoin="round"/>
<circle cx="512.30" cy="328.87" r="1.48" fill="#0000ff"/>
<circle cx="563.40" cy="263.56" r="1.48" fill="#0000ff"/>
<circle cx="614.60" cy="294.82" r="1.48" fill="#0000ff"/>
<polyline points="512.30,323.66 563.40,345.70 614.60,312.44" fill="none" stroke="#8b0000" stroke-width="1.26" stroke-linejoin="round"/>
<circle cx="512.30" cy="323.66" r="1.48" fill="#8b0000"/>
<circle cx="563.40" cy="345.70" r="1.48" fill="#8b0000"/>
<circle cx="614.60" cy="312.44" r="1.48" fill="#8b0000"/>
<polyline points="512.30,240.32 563.40,345.70 614.60,324.46" fill="none" stroke="#1a8546" stroke-width="1.26" stroke-linejoin="round"/>
<circle cx="512.30" cy="240.32" r="1.48" fill="#047f10"/>
<circle cx="563.40" cy="345.70" r="1.48" fill="#047f10"/>
<circle cx="614.60" cy="324.46" r="1.48" fill="#047f10"/>
<polyline points="512.30,345.70 563.40,322.46 614.60,338.49" fill="none" stroke="#ff0000" stroke-width="1.26" stroke-linejoin="round"/>
<circle cx="512.30" cy="345.70" r="1.48" fill="#ff0000"/>
<circle cx="563.40" cy="322.46" r="1.48" fill="#ff0000"/>
<circle cx="614.60" cy="338.49" r="1.48" fill="#ff0000"/>
<line x1="631.2" y1="232.3" x2="638.8" y2="232.3" stroke="#0000ff" stroke-width="1.3"/>
<circle cx="635" cy="232.3" r="1.35" fill="#0000ff"/>
<text transform="translate(641.80,234.26) scale(1,1.07)" font-size="5.6" text-anchor="start" fill="#111" stroke="#111" stroke-width="0.1">ATR p.R1750fs*10</text>
<line x1="631.2" y1="240.5" x2="638.8" y2="240.5" stroke="#8b0000" stroke-width="1.3"/>
<circle cx="635" cy="240.5" r="1.35" fill="#8b0000"/>
<text transform="translate(641.80,242.46) scale(1,1.07)" font-size="5.6" text-anchor="start" fill="#111" stroke="#111" stroke-width="0.1">DIS3 p.M1338fs*12</text>
<line x1="631.2" y1="248.5" x2="638.8" y2="248.5" stroke="#1a8546" stroke-width="1.3"/>
<circle cx="635" cy="248.5" r="1.35" fill="#1a8546"/>
<text transform="translate(641.80,250.46) scale(1,1.07)" font-size="5.6" text-anchor="start" fill="#111" stroke="#111" stroke-width="0.1">NRAS p.Q61H</text>
<line x1="631.2" y1="256.5" x2="638.8" y2="256.5" stroke="#ff0000" stroke-width="1.3"/>
<circle cx="635" cy="256.5" r="1.35" fill="#ff0000"/>
<text transform="translate(641.80,258.46) scale(1,1.07)" font-size="5.6" text-anchor="start" fill="#111" stroke="#111" stroke-width="0.1">RB1 p.A74fs*4</text>
<text x="105.00" y="393.00" font-size="7.35" font-weight="bold" text-anchor="middle" fill="#000" stroke="#000" stroke-width="0.15">Patient 12</text>
<line x1="25.3" y1="404.7" x2="25.3" y2="516.5" stroke="#6e6e6e" stroke-width="0.8"/>
<line x1="25.3" y1="516.5" x2="184" y2="516.5" stroke="#6e6e6e" stroke-width="0.8"/>
<line x1="23.3" y1="516.5" x2="25.3" y2="516.5" stroke="#6e6e6e" stroke-width="0.6"/>
<text transform="translate(22.90,518.09) scale(1,1.3)" font-size="3.6" font-weight="bold" text-anchor="end" fill="#111" stroke="#111" stroke-width="0.14">0.0</text>
<line x1="23.3" y1="479.23333333333335" x2="25.3" y2="479.23333333333335" stroke="#6e6e6e" stroke-width="0.6"/>
<text transform="translate(22.90,480.82) scale(1,1.3)" font-size="3.6" font-weight="bold" text-anchor="end" fill="#111" stroke="#111" stroke-width="0.14">0.5</text>
<line x1="23.3" y1="441.96666666666664" x2="25.3" y2="441.96666666666664" stroke="#6e6e6e" stroke-width="0.6"/>
<text transform="translate(22.90,443.56) scale(1,1.3)" font-size="3.6" font-weight="bold" text-anchor="end" fill="#111" stroke="#111" stroke-width="0.14">1.0</text>
<line x1="23.3" y1="404.7" x2="25.3" y2="404.7" stroke="#6e6e6e" stroke-width="0.6"/>
<text transform="translate(22.90,406.29) scale(1,1.3)" font-size="3.6" font-weight="bold" text-anchor="end" fill="#111" stroke="#111" stroke-width="0.14">1.5</text>
<line x1="57.1" y1="516.5" x2="57.1" y2="518.0" stroke="#6e6e6e" stroke-width="0.6"/>
<text transform="translate(57.10,524.40) scale(1,1.07)" font-size="5.95" font-weight="bold" text-anchor="middle" fill="#000" stroke="#000" stroke-width="0.12">Baseline</text>
<line x1="104.8" y1="516.5" x2="104.8" y2="518.0" stroke="#6e6e6e" stroke-width="0.6"/>
<text transform="translate(104.80,524.40) scale(1,1.07)" font-size="5.95" font-weight="bold" text-anchor="middle" fill="#000" stroke="#000" stroke-width="0.12">C3D1</text>
<line x1="152.8" y1="516.5" x2="152.8" y2="518.0" stroke="#6e6e6e" stroke-width="0.6"/>
<text transform="translate(152.80,524.40) scale(1,1.07)" font-size="5.95" font-weight="bold" text-anchor="middle" fill="#000" stroke="#000" stroke-width="0.12">Pre-Relapse</text>
<text x="0.00" y="0.00" font-size="5.85" font-weight="bold" text-anchor="middle" fill="#000" stroke="#000" stroke-width="0.12" transform="translate(14.82,460.80) rotate(-90)">Variant Allele Frequency (%)</text>
<polyline points="57.10,421.84 104.80,516.50 152.80,516.50" fill="none" stroke="#0000ff" stroke-width="1.07" stroke-linejoin="round"/>
<circle cx="57.10" cy="421.84" r="1.37" fill="#0000ff"/>
<circle cx="104.80" cy="516.50" r="1.37" fill="#0000ff"/>
<circle cx="152.80" cy="516.50" r="1.37" fill="#0000ff"/>
<polyline points="57.10,429.30 104.80,449.42 152.80,474.76" fill="none" stroke="#8b0000" stroke-width="1.07" stroke-linejoin="round"/>
<circle cx="57.10" cy="429.30" r="1.37" fill="#8b0000"/>
<circle cx="104.80" cy="449.42" r="1.37" fill="#8b0000"/>
<circle cx="152.80" cy="474.76" r="1.37" fill="#8b0000"/>
<polyline points="57.10,466.56 104.80,516.50 152.80,450.17" fill="none" stroke="#1a8546" stroke-width="1.07" stroke-linejoin="round"/>
<circle cx="57.10" cy="466.56" r="1.37" fill="#047f10"/>
<circle cx="104.80" cy="516.50" r="1.37" fill="#047f10"/>
<circle cx="152.80" cy="450.17" r="1.37" fill="#047f10"/>
<polyline points="57.10,485.20 104.80,476.25 152.80,496.38" fill="none" stroke="#ff0000" stroke-width="1.07" stroke-linejoin="round"/>
<circle cx="57.10" cy="485.20" r="1.37" fill="#ff0000"/>
<circle cx="104.80" cy="476.25" r="1.37" fill="#ff0000"/>
<circle cx="152.80" cy="496.38" r="1.37" fill="#ff0000"/>
<polyline points="57.10,516.50 104.80,516.50 152.80,427.06" fill="none" stroke="#ff00ff" stroke-width="1.07" stroke-linejoin="round"/>
<circle cx="57.10" cy="516.50" r="1.37" fill="#ff00ff"/>
<circle cx="104.80" cy="516.50" r="1.37" fill="#ff00ff"/>
<circle cx="152.80" cy="427.06" r="1.37" fill="#ff00ff"/>
<line x1="170.79999999999998" y1="407.2" x2="178.4" y2="407.2" stroke="#0000ff" stroke-width="1.3"/>
<circle cx="174.6" cy="407.2" r="1.35" fill="#0000ff"/>
<text transform="translate(180.80,409.02) scale(1,1.07)" font-size="5.2" text-anchor="start" fill="#111" stroke="#111" stroke-width="0.1">ATR p.I774fs*5</text>
<line x1="170.79999999999998" y1="414.8" x2="178.4" y2="414.8" stroke="#8b0000" stroke-width="1.3"/>
<circle cx="174.6" cy="414.8" r="1.35" fill="#8b0000"/>
<text transform="translate(180.80,416.62) scale(1,1.07)" font-size="5.2" text-anchor="start" fill="#111" stroke="#111" stroke-width="0.1">ATR p.R1750fs*10</text>
<line x1="170.79999999999998" y1="422.3" x2="178.4" y2="422.3" stroke="#1a8546" stroke-width="1.3"/>
<circle cx="174.6" cy="422.3" r="1.35" fill="#1a8546"/>
<text transform="translate(180.80,424.12) scale(1,1.07)" font-size="5.2" text-anchor="start" fill="#111" stroke="#111" stroke-width="0.1">PRDM1 p.L220fs*14</text>
<line x1="170.79999999999998" y1="429.9" x2="178.4" y2="429.9" stroke="#ff0000" stroke-width="1.3"/>
<circle cx="174.6" cy="429.9" r="1.35" fill="#ff0000"/>
<text transform="translate(180.80,431.72) scale(1,1.07)" font-size="5.2" text-anchor="start" fill="#111" stroke="#111" stroke-width="0.1">ATM p.L1814fs*14</text>
<line x1="170.79999999999998" y1="437.6" x2="178.4" y2="437.6" stroke="#ff00ff" stroke-width="1.3"/>
<circle cx="174.6" cy="437.6" r="1.35" fill="#ff00ff"/>
<text transform="translate(180.80,439.42) scale(1,1.07)" font-size="5.2" text-anchor="start" fill="#111" stroke="#111" stroke-width="0.1">CYLD p.S3P</text>
<text x="333.20" y="395.30" font-size="7.21" font-weight="bold" text-anchor="middle" fill="#000" stroke="#000" stroke-width="0.15">Patient 13</text>
<line x1="255.5" y1="402.2" x2="255.5" y2="511.3" stroke="#6e6e6e" stroke-width="0.8"/>
<line x1="255.5" y1="511.3" x2="410.5" y2="511.3" stroke="#6e6e6e" stroke-width="0.8"/>
<line x1="253.5" y1="511.3" x2="255.5" y2="511.3" stroke="#6e6e6e" stroke-width="0.6"/>
<text transform="translate(253.10,512.80) scale(1,1.3)" font-size="3.4" font-weight="bold" text-anchor="end" fill="#111" stroke="#111" stroke-width="0.14">0.0</text>
<line x1="253.5" y1="474.93333333333334" x2="255.5" y2="474.93333333333334" stroke="#6e6e6e" stroke-width="0.6"/>
<text transform="translate(253.10,476.44) scale(1,1.3)" font-size="3.4" font-weight="bold" text-anchor="end" fill="#111" stroke="#111" stroke-width="0.14">0.5</text>
<line x1="253.5" y1="438.56666666666666" x2="255.5" y2="438.56666666666666" stroke="#6e6e6e" stroke-width="0.6"/>
<text transform="translate(253.10,440.07) scale(1,1.3)" font-size="3.4" font-weight="bold" text-anchor="end" fill="#111" stroke="#111" stroke-width="0.14">1.0</text>
<line x1="253.5" y1="402.2" x2="255.5" y2="402.2" stroke="#6e6e6e" stroke-width="0.6"/>
<text transform="translate(253.10,403.70) scale(1,1.3)" font-size="3.4" font-weight="bold" text-anchor="end" fill="#111" stroke="#111" stroke-width="0.14">1.5</text>
<line x1="286.4" y1="511.3" x2="286.4" y2="512.8" stroke="#6e6e6e" stroke-width="0.6"/>
<text transform="translate(286.40,519.00) scale(1,1.07)" font-size="5.9" font-weight="bold" text-anchor="middle" fill="#000" stroke="#000" stroke-width="0.12">Baseline</text>
<line x1="333.4" y1="511.3" x2="333.4" y2="512.8" stroke="#6e6e6e" stroke-width="0.6"/>
<text transform="translate(333.40,519.00) scale(1,1.07)" font-size="5.9" font-weight="bold" text-anchor="middle" fill="#000" stroke="#000" stroke-width="0.12">C3D1</text>
<line x1="379.7" y1="511.3" x2="379.7" y2="512.8" stroke="#6e6e6e" stroke-width="0.6"/>
<text transform="translate(379.70,519.00) scale(1,1.07)" font-size="5.9" font-weight="bold" text-anchor="middle" fill="#000" stroke="#000" stroke-width="0.12">EOS - 9 months to relapse</text>
<text x="0.00" y="0.00" font-size="5.75" font-weight="bold" text-anchor="middle" fill="#000" stroke="#000" stroke-width="0.12" transform="translate(245.08,457.00) rotate(-90)">Variant Allele Frequency (%)</text>
<polyline points="286.40,414.56 333.40,511.30 379.70,436.38" fill="none" stroke="#0000ff" stroke-width="1.05" stroke-linejoin="round"/>
<circle cx="286.40" cy="414.56" r="1.36" fill="#0000ff"/>
<circle cx="333.40" cy="511.30" r="1.36" fill="#0000ff"/>
<circle cx="379.70" cy="436.38" r="1.36" fill="#0000ff"/>
<line x1="398.59999999999997" y1="415.1" x2="406.2" y2="415.1" stroke="#0000ff" stroke-width="1.3"/>
<circle cx="402.4" cy="415.1" r="1.35" fill="#0000ff"/>
<text transform="translate(408.60,416.89) scale(1,1.07)" font-size="5.1" text-anchor="start" fill="#111" stroke="#111" stroke-width="0.1">ATR p.R1750fs*10</text>
<text x="562.00" y="388.80" font-size="8.03" font-weight="bold" text-anchor="middle" fill="#000" stroke="#000" stroke-width="0.15">Patient 18</text>
<line x1="477" y1="396.1" x2="477" y2="515.6" stroke="#6e6e6e" stroke-width="0.8"/>
<line x1="477" y1="515.6" x2="646.5" y2="515.6" stroke="#6e6e6e" stroke-width="0.8"/>
<line x1="475" y1="515.6" x2="477" y2="515.6" stroke="#6e6e6e" stroke-width="0.6"/>
<text transform="translate(474.60,517.37) scale(1,1.3)" font-size="4.0" font-weight="bold" text-anchor="end" fill="#111" stroke="#111" stroke-width="0.14">0.0</text>
<line x1="475" y1="475.7666666666667" x2="477" y2="475.7666666666667" stroke="#6e6e6e" stroke-width="0.6"/>
<text transform="translate(474.60,477.53) scale(1,1.3)" font-size="4.0" font-weight="bold" text-anchor="end" fill="#111" stroke="#111" stroke-width="0.14">0.5</text>
<line x1="475" y1="435.93333333333334" x2="477" y2="435.93333333333334" stroke="#6e6e6e" stroke-width="0.6"/>
<text transform="translate(474.60,437.70) scale(1,1.3)" font-size="4.0" font-weight="bold" text-anchor="end" fill="#111" stroke="#111" stroke-width="0.14">1.0</text>
<line x1="475" y1="396.1" x2="477" y2="396.1" stroke="#6e6e6e" stroke-width="0.6"/>
<text transform="translate(474.60,397.87) scale(1,1.3)" font-size="4.0" font-weight="bold" text-anchor="end" fill="#111" stroke="#111" stroke-width="0.14">1.5</text>
<line x1="510.5" y1="515.6" x2="510.5" y2="517.1" stroke="#6e6e6e" stroke-width="0.6"/>
<text transform="translate(510.50,524.10) scale(1,1.07)" font-size="6.35" font-weight="bold" text-anchor="middle" fill="#000" stroke="#000" stroke-width="0.12">Baseline</text>
<line x1="561.7" y1="515.6" x2="561.7" y2="517.1" stroke="#6e6e6e" stroke-width="0.6"/>
<text transform="translate(561.70,524.10) scale(1,1.07)" font-size="6.35" font-weight="bold" text-anchor="middle" fill="#000" stroke="#000" stroke-width="0.12">C3D1</text>
<line x1="612.8" y1="515.6" x2="612.8" y2="517.1" stroke="#6e6e6e" stroke-width="0.6"/>
<text transform="translate(612.80,524.10) scale(1,1.07)" font-size="6.35" font-weight="bold" text-anchor="middle" fill="#000" stroke="#000" stroke-width="0.12">Relapse</text>
<text x="0.00" y="0.00" font-size="6.25" font-weight="bold" text-anchor="middle" fill="#000" stroke="#000" stroke-width="0.12" transform="translate(465.85,456.30) rotate(-90)">Variant Allele Frequency (%)</text>
<polyline points="510.50,460.23 561.70,515.60 612.80,437.85" fill="none" stroke="#0000ff" stroke-width="1.22" stroke-linejoin="round"/>
<circle cx="510.50" cy="460.23" r="1.46" fill="#0000ff"/>
<circle cx="561.70" cy="515.60" r="1.46" fill="#0000ff"/>
<circle cx="612.80" cy="437.85" r="1.46" fill="#0000ff"/>
<line x1="629.6" y1="408.8" x2="637.1999999999999" y2="408.8" stroke="#0000ff" stroke-width="1.3"/>
<circle cx="633.4" cy="408.8" r="1.35" fill="#0000ff"/>
<text transform="translate(639.70,410.78) scale(1,1.07)" font-size="5.65" text-anchor="start" fill="#111" stroke="#111" stroke-width="0.1">CYLD p.I766fs*7</text>
<text x="104.80" y="544.80" font-size="7.59" font-weight="bold" text-anchor="middle" fill="#000" stroke="#000" stroke-width="0.15">Patient 19</text>
<line x1="22.5" y1="552.5" x2="22.5" y2="668.4" stroke="#6e6e6e" stroke-width="0.8"/>
<line x1="22.5" y1="668.4" x2="186.4" y2="668.4" stroke="#6e6e6e" stroke-width="0.8"/>
<line x1="20.5" y1="668.4" x2="22.5" y2="668.4" stroke="#6e6e6e" stroke-width="0.6"/>
<text transform="translate(20.10,670.26) scale(1,1.3)" font-size="4.2" font-weight="bold" text-anchor="end" fill="#111" stroke="#111" stroke-width="0.14">0.0</text>
<line x1="20.5" y1="645.22" x2="22.5" y2="645.22" stroke="#6e6e6e" stroke-width="0.6"/>
<text transform="translate(20.10,647.08) scale(1,1.3)" font-size="4.2" font-weight="bold" text-anchor="end" fill="#111" stroke="#111" stroke-width="0.14">0.5</text>
<line x1="20.5" y1="622.04" x2="22.5" y2="622.04" stroke="#6e6e6e" stroke-width="0.6"/>
<text transform="translate(20.10,623.90) scale(1,1.3)" font-size="4.2" font-weight="bold" text-anchor="end" fill="#111" stroke="#111" stroke-width="0.14">1.0</text>
<line x1="20.5" y1="598.86" x2="22.5" y2="598.86" stroke="#6e6e6e" stroke-width="0.6"/>
<text transform="translate(20.10,600.72) scale(1,1.3)" font-size="4.2" font-weight="bold" text-anchor="end" fill="#111" stroke="#111" stroke-width="0.14">1.5</text>
<line x1="20.5" y1="575.68" x2="22.5" y2="575.68" stroke="#6e6e6e" stroke-width="0.6"/>
<text transform="translate(20.10,577.54) scale(1,1.3)" font-size="4.2" font-weight="bold" text-anchor="end" fill="#111" stroke="#111" stroke-width="0.14">2.0</text>
<line x1="20.5" y1="552.5" x2="22.5" y2="552.5" stroke="#6e6e6e" stroke-width="0.6"/>
<text transform="translate(20.10,554.36) scale(1,1.3)" font-size="4.2" font-weight="bold" text-anchor="end" fill="#111" stroke="#111" stroke-width="0.14">2.5</text>
<line x1="55.4" y1="668.4" x2="55.4" y2="669.9" stroke="#6e6e6e" stroke-width="0.6"/>
<text transform="translate(55.40,676.00) scale(1,1.07)" font-size="6.2" font-weight="bold" text-anchor="middle" fill="#000" stroke="#000" stroke-width="0.12">Baseline</text>
<line x1="104.8" y1="668.4" x2="104.8" y2="669.9" stroke="#6e6e6e" stroke-width="0.6"/>
<text transform="translate(104.80,676.00) scale(1,1.07)" font-size="6.2" font-weight="bold" text-anchor="middle" fill="#000" stroke="#000" stroke-width="0.12">C3D1</text>
<line x1="153.8" y1="668.4" x2="153.8" y2="669.9" stroke="#6e6e6e" stroke-width="0.6"/>
<text transform="translate(153.80,676.00) scale(1,1.07)" font-size="6.2" font-weight="bold" text-anchor="middle" fill="#000" stroke="#000" stroke-width="0.12">Pre-Relapse (2 months)</text>
<text x="0.00" y="0.00" font-size="6.1" font-weight="bold" text-anchor="middle" fill="#000" stroke="#000" stroke-width="0.12" transform="translate(11.80,610.70) rotate(-90)">Variant Allele Frequency (%)</text>
<polyline points="55.40,621.58 104.80,668.40 153.80,610.91" fill="none" stroke="#0000ff" stroke-width="1.16" stroke-linejoin="round"/>
<circle cx="55.40" cy="621.58" r="1.43" fill="#0000ff"/>
<circle cx="104.80" cy="668.40" r="1.43" fill="#0000ff"/>
<circle cx="153.80" cy="610.91" r="1.43" fill="#0000ff"/>
<polyline points="55.40,574.29 104.80,668.40 153.80,668.40" fill="none" stroke="#1a8546" stroke-width="1.16" stroke-linejoin="round"/>
<circle cx="55.40" cy="574.29" r="1.43" fill="#047f10"/>
<circle cx="104.80" cy="668.40" r="1.43" fill="#047f10"/>
<circle cx="153.80" cy="668.40" r="1.43" fill="#047f10"/>
<polyline points="55.40,668.40 104.80,668.40 153.80,620.65" fill="none" stroke="#ff0000" stroke-width="1.16" stroke-linejoin="round"/>
<circle cx="55.40" cy="668.40" r="1.43" fill="#ff0000"/>
<circle cx="104.80" cy="668.40" r="1.43" fill="#ff0000"/>
<circle cx="153.80" cy="620.65" r="1.43" fill="#ff0000"/>
<line x1="177.2" y1="558.8" x2="184.8" y2="558.8" stroke="#0000ff" stroke-width="1.3"/>
<circle cx="181" cy="558.8" r="1.35" fill="#0000ff"/>
<text transform="translate(187.50,560.66) scale(1,1.07)" font-size="5.3" text-anchor="start" fill="#111" stroke="#111" stroke-width="0.1">ATR p.F612fs*18</text>
<line x1="177.2" y1="566.6" x2="184.8" y2="566.6" stroke="#1a8546" stroke-width="1.3"/>
<circle cx="181" cy="566.6" r="1.35" fill="#1a8546"/>
<text transform="translate(187.50,568.46) scale(1,1.07)" font-size="5.3" text-anchor="start" fill="#111" stroke="#111" stroke-width="0.1">DIS3 p.I648fs*3</text>
<line x1="177.2" y1="574.1" x2="184.8" y2="574.1" stroke="#ff0000" stroke-width="1.3"/>
<circle cx="181" cy="574.1" r="1.35" fill="#ff0000"/>
<text transform="translate(187.50,575.96) scale(1,1.07)" font-size="5.3" text-anchor="start" fill="#111" stroke="#111" stroke-width="0.1">CYLD p.I766fs*7</text>
<text x="346.30" y="543.00" font-size="8.32" font-weight="bold" text-anchor="middle" fill="#000" stroke="#000" stroke-width="0.15">Patient 21</text>
<line x1="255.5" y1="552.4" x2="255.5" y2="681.1" stroke="#6e6e6e" stroke-width="0.8"/>
<line x1="255.5" y1="681.1" x2="438" y2="681.1" stroke="#6e6e6e" stroke-width="0.8"/>
<line x1="253.5" y1="681.1" x2="255.5" y2="681.1" stroke="#6e6e6e" stroke-width="0.6"/>
<text transform="translate(253.10,683.22) scale(1,1.3)" font-size="4.8" font-weight="bold" text-anchor="end" fill="#111" stroke="#111" stroke-width="0.14">0</text>
<line x1="253.5" y1="638.2" x2="255.5" y2="638.2" stroke="#6e6e6e" stroke-width="0.6"/>
<text transform="translate(253.10,640.32) scale(1,1.3)" font-size="4.8" font-weight="bold" text-anchor="end" fill="#111" stroke="#111" stroke-width="0.14">1</text>
<line x1="253.5" y1="595.3" x2="255.5" y2="595.3" stroke="#6e6e6e" stroke-width="0.6"/>
<text transform="translate(253.10,597.42) scale(1,1.3)" font-size="4.8" font-weight="bold" text-anchor="end" fill="#111" stroke="#111" stroke-width="0.14">2</text>
<line x1="253.5" y1="552.4" x2="255.5" y2="552.4" stroke="#6e6e6e" stroke-width="0.6"/>
<text transform="translate(253.10,554.52) scale(1,1.3)" font-size="4.8" font-weight="bold" text-anchor="end" fill="#111" stroke="#111" stroke-width="0.14">3</text>
<line x1="291.8" y1="681.1" x2="291.8" y2="682.6" stroke="#6e6e6e" stroke-width="0.6"/>
<text transform="translate(291.80,690.10) scale(1,1.07)" font-size="6.87" font-weight="bold" text-anchor="middle" fill="#000" stroke="#000" stroke-width="0.12">Baseline</text>
<line x1="346.4" y1="681.1" x2="346.4" y2="682.6" stroke="#6e6e6e" stroke-width="0.6"/>
<text transform="translate(346.40,690.10) scale(1,1.07)" font-size="6.87" font-weight="bold" text-anchor="middle" fill="#000" stroke="#000" stroke-width="0.12">C3D1</text>
<line x1="401.3" y1="681.1" x2="401.3" y2="682.6" stroke="#6e6e6e" stroke-width="0.6"/>
<text transform="translate(401.30,690.10) scale(1,1.07)" font-size="6.87" font-weight="bold" text-anchor="middle" fill="#000" stroke="#000" stroke-width="0.12">Relapse</text>
<text x="0.00" y="0.00" font-size="6.7" font-weight="bold" text-anchor="middle" fill="#000" stroke="#000" stroke-width="0.12" transform="translate(246.39,616.30) rotate(-90)">Variant Allele Frequency (%)</text>
<polyline points="291.80,565.70 346.40,681.10 401.30,681.10" fill="none" stroke="#0000ff" stroke-width="1.43" stroke-linejoin="round"/>
<circle cx="291.80" cy="565.70" r="1.58" fill="#0000ff"/>
<circle cx="346.40" cy="681.10" r="1.58" fill="#0000ff"/>
<circle cx="401.30" cy="681.10" r="1.58" fill="#0000ff"/>
<line x1="414.09999999999997" y1="566.4" x2="421.7" y2="566.4" stroke="#0000ff" stroke-width="1.3"/>
<circle cx="417.9" cy="566.4" r="1.35" fill="#0000ff"/>
<text transform="translate(425.30,568.47) scale(1,1.07)" font-size="5.9" text-anchor="start" fill="#111" stroke="#111" stroke-width="0.1">TP53 p.R250L</text>
<text x="560.00" y="557.10" font-size="7.59" font-weight="bold" text-anchor="middle" fill="#000" stroke="#000" stroke-width="0.15">Patient 23</text>
<line x1="477" y1="565.6" x2="477" y2="682" stroke="#6e6e6e" stroke-width="0.8"/>
<line x1="477" y1="682" x2="643" y2="682" stroke="#6e6e6e" stroke-width="0.8"/>
<line x1="475" y1="682.0" x2="477" y2="682.0" stroke="#6e6e6e" stroke-width="0.6"/>
<text transform="translate(474.60,683.99) scale(1,1.3)" font-size="4.5" font-weight="bold" text-anchor="end" fill="#111" stroke="#111" stroke-width="0.14">0.0</text>
<line x1="475" y1="658.72" x2="477" y2="658.72" stroke="#6e6e6e" stroke-width="0.6"/>
<text transform="translate(474.60,660.71) scale(1,1.3)" font-size="4.5" font-weight="bold" text-anchor="end" fill="#111" stroke="#111" stroke-width="0.14">0.5</text>
<line x1="475" y1="635.44" x2="477" y2="635.44" stroke="#6e6e6e" stroke-width="0.6"/>
<text transform="translate(474.60,637.43) scale(1,1.3)" font-size="4.5" font-weight="bold" text-anchor="end" fill="#111" stroke="#111" stroke-width="0.14">1.0</text>
<line x1="475" y1="612.16" x2="477" y2="612.16" stroke="#6e6e6e" stroke-width="0.6"/>
<text transform="translate(474.60,614.15) scale(1,1.3)" font-size="4.5" font-weight="bold" text-anchor="end" fill="#111" stroke="#111" stroke-width="0.14">1.5</text>
<line x1="475" y1="588.88" x2="477" y2="588.88" stroke="#6e6e6e" stroke-width="0.6"/>
<text transform="translate(474.60,590.87) scale(1,1.3)" font-size="4.5" font-weight="bold" text-anchor="end" fill="#111" stroke="#111" stroke-width="0.14">2.0</text>
<line x1="475" y1="565.6" x2="477" y2="565.6" stroke="#6e6e6e" stroke-width="0.6"/>
<text transform="translate(474.60,567.59) scale(1,1.3)" font-size="4.5" font-weight="bold" text-anchor="end" fill="#111" stroke="#111" stroke-width="0.14">2.5</text>
<line x1="510.2" y1="682" x2="510.2" y2="683.5" stroke="#6e6e6e" stroke-width="0.6"/>
<text transform="translate(510.20,690.00) scale(1,1.07)" font-size="6.2" font-weight="bold" text-anchor="middle" fill="#000" stroke="#000" stroke-width="0.12">Baseline</text>
<line x1="559.9" y1="682" x2="559.9" y2="683.5" stroke="#6e6e6e" stroke-width="0.6"/>
<text transform="translate(559.90,690.00) scale(1,1.07)" font-size="6.2" font-weight="bold" text-anchor="middle" fill="#000" stroke="#000" stroke-width="0.12">C3D1</text>
<line x1="609.7" y1="682" x2="609.7" y2="683.5" stroke="#6e6e6e" stroke-width="0.6"/>
<text transform="translate(609.70,690.00) scale(1,1.07)" font-size="6.2" font-weight="bold" text-anchor="middle" fill="#000" stroke="#000" stroke-width="0.12">EOS - 8 months to relapse</text>
<text x="0.00" y="0.00" font-size="6.1" font-weight="bold" text-anchor="middle" fill="#000" stroke="#000" stroke-width="0.12" transform="translate(465.90,623.60) rotate(-90)">Variant Allele Frequency (1%)</text>
<polyline points="510.20,640.10 559.90,682.00 609.70,660.12" fill="none" stroke="#8b0000" stroke-width="1.16" stroke-linejoin="round"/>
<circle cx="510.20" cy="640.10" r="1.43" fill="#8b0000"/>
<circle cx="559.90" cy="682.00" r="1.43" fill="#8b0000"/>
<circle cx="609.70" cy="660.12" r="1.43" fill="#8b0000"/>
<polyline points="510.20,580.96 559.90,682.00 609.70,624.73" fill="none" stroke="#1a8546" stroke-width="1.16" stroke-linejoin="round"/>
<circle cx="510.20" cy="580.96" r="1.43" fill="#047f10"/>
<circle cx="559.90" cy="682.00" r="1.43" fill="#047f10"/>
<circle cx="609.70" cy="624.73" r="1.43" fill="#047f10"/>
<line x1="624.5" y1="589.2" x2="632.0999999999999" y2="589.2" stroke="#8b0000" stroke-width="1.3"/>
<circle cx="628.3" cy="589.2" r="1.35" fill="#8b0000"/>
<text transform="translate(634.70,591.11) scale(1,1.07)" font-size="5.45" text-anchor="start" fill="#111" stroke="#111" stroke-width="0.1">FGFR3 p.K405fs*29</text>
<line x1="624.5" y1="597.1" x2="632.0999999999999" y2="597.1" stroke="#1a8546" stroke-width="1.3"/>
<circle cx="628.3" cy="597.1" r="1.35" fill="#1a8546"/>
<text transform="translate(634.70,599.01) scale(1,1.07)" font-size="5.45" text-anchor="start" fill="#111" stroke="#111" stroke-width="0.1">ATR p.R1750fs*10</text>
<text x="103.20" y="717.00" font-size="7.99" font-weight="bold" text-anchor="middle" fill="#000" stroke="#000" stroke-width="0.15">Patient 30</text>
<line x1="16.2" y1="787.7" x2="16.2" y2="846.1" stroke="#6e6e6e" stroke-width="0.8"/>
<line x1="16.2" y1="724.7" x2="16.2" y2="783.1" stroke="#6e6e6e" stroke-width="0.8"/>
<line x1="16.2" y1="846.1" x2="187.4" y2="846.1" stroke="#6e6e6e" stroke-width="0.8"/>
<line x1="14.2" y1="846.1" x2="16.2" y2="846.1" stroke="#6e6e6e" stroke-width="0.6"/>
<text transform="translate(13.80,847.65) scale(1,1.3)" font-size="3.5" font-weight="bold" text-anchor="end" fill="#111" stroke="#111" stroke-width="0.14">0.0</text>
<line x1="14.2" y1="831.5" x2="16.2" y2="831.5" stroke="#6e6e6e" stroke-width="0.6"/>
<text transform="translate(13.80,833.05) scale(1,1.3)" font-size="3.5" font-weight="bold" text-anchor="end" fill="#111" stroke="#111" stroke-width="0.14">0.5</text>
<line x1="14.2" y1="816.9000000000001" x2="16.2" y2="816.9000000000001" stroke="#6e6e6e" stroke-width="0.6"/>
<text transform="translate(13.80,818.45) scale(1,1.3)" font-size="3.5" font-weight="bold" text-anchor="end" fill="#111" stroke="#111" stroke-width="0.14">1.0</text>
<line x1="14.2" y1="802.3000000000001" x2="16.2" y2="802.3000000000001" stroke="#6e6e6e" stroke-width="0.6"/>
<text transform="translate(13.80,803.85) scale(1,1.3)" font-size="3.5" font-weight="bold" text-anchor="end" fill="#111" stroke="#111" stroke-width="0.14">1.5</text>
<line x1="14.2" y1="787.7" x2="16.2" y2="787.7" stroke="#6e6e6e" stroke-width="0.6"/>
<text transform="translate(13.80,789.25) scale(1,1.3)" font-size="3.5" font-weight="bold" text-anchor="end" fill="#111" stroke="#111" stroke-width="0.14">2.0</text>
<line x1="14.2" y1="783.1" x2="16.2" y2="783.1" stroke="#6e6e6e" stroke-width="0.6"/>
<text transform="translate(13.80,784.65) scale(1,1.3)" font-size="3.5" font-weight="bold" text-anchor="end" fill="#111" stroke="#111" stroke-width="0.14">20</text>
<line x1="14.2" y1="768.5" x2="16.2" y2="768.5" stroke="#6e6e6e" stroke-width="0.6"/>
<text transform="translate(13.80,770.05) scale(1,1.3)" font-size="3.5" font-weight="bold" text-anchor="end" fill="#111" stroke="#111" stroke-width="0.14">25</text>
<line x1="14.2" y1="753.9000000000001" x2="16.2" y2="753.9000000000001" stroke="#6e6e6e" stroke-width="0.6"/>
<text transform="translate(13.80,755.45) scale(1,1.3)" font-size="3.5" font-weight="bold" text-anchor="end" fill="#111" stroke="#111" stroke-width="0.14">30</text>
<line x1="14.2" y1="739.3000000000001" x2="16.2" y2="739.3000000000001" stroke="#6e6e6e" stroke-width="0.6"/>
<text transform="translate(13.80,740.85) scale(1,1.3)" font-size="3.5" font-weight="bold" text-anchor="end" fill="#111" stroke="#111" stroke-width="0.14">35</text>
<line x1="14.2" y1="724.7" x2="16.2" y2="724.7" stroke="#6e6e6e" stroke-width="0.6"/>
<text transform="translate(13.80,726.25) scale(1,1.3)" font-size="3.5" font-weight="bold" text-anchor="end" fill="#111" stroke="#111" stroke-width="0.14">40</text>
<line x1="51" y1="846.1" x2="51" y2="847.6" stroke="#6e6e6e" stroke-width="0.6"/>
<text transform="translate(51.00,854.20) scale(1,1.07)" font-size="6.45" font-weight="bold" text-anchor="middle" fill="#000" stroke="#000" stroke-width="0.12">Baseline</text>
<line x1="102.4" y1="846.1" x2="102.4" y2="847.6" stroke="#6e6e6e" stroke-width="0.6"/>
<text transform="translate(102.40,854.20) scale(1,1.07)" font-size="6.45" font-weight="bold" text-anchor="middle" fill="#000" stroke="#000" stroke-width="0.12">C3D1</text>
<line x1="154.5" y1="846.1" x2="154.5" y2="847.6" stroke="#6e6e6e" stroke-width="0.6"/>
<text transform="translate(154.50,854.20) scale(1,1.07)" font-size="6.45" font-weight="bold" text-anchor="middle" fill="#000" stroke="#000" stroke-width="0.12">Relapse</text>
<text x="0.00" y="0.00" font-size="6.2" font-weight="bold" text-anchor="middle" fill="#000" stroke="#000" stroke-width="0.12" transform="translate(5.23,785.00) rotate(-90)">Variant Allele Frequency (%)</text>
<clipPath id="gap526"><rect x="0" y="0" width="685" height="783.6"/><rect x="0" y="787.7" width="685" height="400"/></clipPath>
<polyline clip-path="url(#gap526)" points="" fill="none" stroke="#0000ff" stroke-width="1.26" stroke-linejoin="round"/>
<clipPath id="gap528"><rect x="0" y="0" width="685" height="783.6"/><rect x="0" y="787.7" width="685" height="400"/></clipPath>
<polyline clip-path="url(#gap528)" points="102.40,846.10 154.50,737.84" fill="none" stroke="#8b0000" stroke-width="1.26" stroke-linejoin="round"/>
<circle cx="102.40" cy="846.10" r="1.48" fill="#8b0000"/>
<circle cx="154.50" cy="737.84" r="1.48" fill="#8b0000"/>
<clipPath id="gap532"><rect x="0" y="0" width="685" height="783.6"/><rect x="0" y="787.7" width="685" height="400"/></clipPath>
<polyline clip-path="url(#gap532)" points="51.00,846.10 102.40,846.10 154.50,813.10" fill="none" stroke="#1a8546" stroke-width="1.26" stroke-linejoin="round"/>
<circle cx="51.00" cy="846.10" r="1.48" fill="#047f10"/>
<circle cx="102.40" cy="846.10" r="1.48" fill="#047f10"/>
<circle cx="154.50" cy="813.10" r="1.48" fill="#047f10"/>
<clipPath id="gap537"><rect x="0" y="0" width="685" height="783.6"/><rect x="0" y="787.7" width="685" height="400"/></clipPath>
<polyline clip-path="url(#gap537)" points="51.00,824.78 102.40,846.10 154.50,835.30" fill="none" stroke="#ff0000" stroke-width="1.26" stroke-linejoin="round"/>
<circle cx="51.00" cy="824.78" r="1.48" fill="#ff0000"/>
<circle cx="102.40" cy="846.10" r="1.48" fill="#ff0000"/>
<circle cx="154.50" cy="835.30" r="1.48" fill="#ff0000"/>
<line x1="171.2" y1="722.7" x2="178.8" y2="722.7" stroke="#0000ff" stroke-width="1.3"/>
<circle cx="175" cy="722.7" r="1.35" fill="#0000ff"/>
<text transform="translate(181.80,724.64) scale(1,1.07)" font-size="5.55" text-anchor="start" fill="#111" stroke="#111" stroke-width="0.1">KRAS p.G12R</text>
<line x1="171.2" y1="731" x2="178.8" y2="731" stroke="#8b0000" stroke-width="1.3"/>
<circle cx="175" cy="731" r="1.35" fill="#8b0000"/>
<text transform="translate(181.80,732.94) scale(1,1.07)" font-size="5.55" text-anchor="start" fill="#111" stroke="#111" stroke-width="0.1">KRAS p.G12R</text>
<line x1="171.2" y1="739.1" x2="178.8" y2="739.1" stroke="#1a8546" stroke-width="1.3"/>
<circle cx="175" cy="739.1" r="1.35" fill="#1a8546"/>
<text transform="translate(181.80,741.04) scale(1,1.07)" font-size="5.55" text-anchor="start" fill="#111" stroke="#111" stroke-width="0.1">ATM p.W1795R</text>
<line x1="171.2" y1="747.4" x2="178.8" y2="747.4" stroke="#ff0000" stroke-width="1.3"/>
<circle cx="175" cy="747.4" r="1.35" fill="#ff0000"/>
<text transform="translate(181.80,749.34) scale(1,1.07)" font-size="5.55" text-anchor="start" fill="#111" stroke="#111" stroke-width="0.1">RB1 p.R73fs*</text>
<text x="318.30" y="725.30" font-size="7.35" font-weight="bold" text-anchor="middle" fill="#000" stroke="#000" stroke-width="0.15">Patient 32</text>
<line x1="239" y1="735.5" x2="239" y2="847" stroke="#6e6e6e" stroke-width="0.8"/>
<line x1="239" y1="847" x2="396.8" y2="847" stroke="#6e6e6e" stroke-width="0.8"/>
<line x1="237" y1="847.0" x2="239" y2="847.0" stroke="#6e6e6e" stroke-width="0.6"/>
<text transform="translate(236.60,848.86) scale(1,1.3)" font-size="4.2" font-weight="bold" text-anchor="end" fill="#111" stroke="#111" stroke-width="0.14">0.0</text>
<line x1="237" y1="809.8333333333334" x2="239" y2="809.8333333333334" stroke="#6e6e6e" stroke-width="0.6"/>
<text transform="translate(236.60,811.69) scale(1,1.3)" font-size="4.2" font-weight="bold" text-anchor="end" fill="#111" stroke="#111" stroke-width="0.14">0.5</text>
<line x1="237" y1="772.6666666666666" x2="239" y2="772.6666666666666" stroke="#6e6e6e" stroke-width="0.6"/>
<text transform="translate(236.60,774.52) scale(1,1.3)" font-size="4.2" font-weight="bold" text-anchor="end" fill="#111" stroke="#111" stroke-width="0.14">1.0</text>
<line x1="237" y1="735.5" x2="239" y2="735.5" stroke="#6e6e6e" stroke-width="0.6"/>
<text transform="translate(236.60,737.36) scale(1,1.3)" font-size="4.2" font-weight="bold" text-anchor="end" fill="#111" stroke="#111" stroke-width="0.14">1.5</text>
<line x1="270.6" y1="847" x2="270.6" y2="848.5" stroke="#6e6e6e" stroke-width="0.6"/>
<text transform="translate(270.60,854.60) scale(1,1.07)" font-size="5.9" font-weight="bold" text-anchor="middle" fill="#000" stroke="#000" stroke-width="0.12">Baseline</text>
<line x1="317.9" y1="847" x2="317.9" y2="848.5" stroke="#6e6e6e" stroke-width="0.6"/>
<text transform="translate(317.90,854.60) scale(1,1.07)" font-size="5.9" font-weight="bold" text-anchor="middle" fill="#000" stroke="#000" stroke-width="0.12">C3D1</text>
<line x1="365.3" y1="847" x2="365.3" y2="848.5" stroke="#6e6e6e" stroke-width="0.6"/>
<text transform="translate(365.30,854.60) scale(1,1.07)" font-size="5.9" font-weight="bold" text-anchor="middle" fill="#000" stroke="#000" stroke-width="0.12">Relapse</text>
<text x="0.00" y="0.00" font-size="5.8" font-weight="bold" text-anchor="middle" fill="#000" stroke="#000" stroke-width="0.12" transform="translate(228.80,791.40) rotate(-90)">Variant Allele Frequency (%)</text>
<polyline points="270.60,847.00 317.90,818.01 365.30,805.37" fill="none" stroke="#0000ff" stroke-width="1.05" stroke-linejoin="round"/>
<circle cx="270.60" cy="847.00" r="1.36" fill="#0000ff"/>
<circle cx="317.90" cy="818.01" r="1.36" fill="#0000ff"/>
<circle cx="365.30" cy="805.37" r="1.36" fill="#0000ff"/>
<polyline points="270.60,828.42 317.90,823.21 365.30,822.47" fill="none" stroke="#8b0000" stroke-width="1.05" stroke-linejoin="round"/>
<circle cx="270.60" cy="828.42" r="1.36" fill="#8b0000"/>
<circle cx="317.90" cy="823.21" r="1.36" fill="#8b0000"/>
<circle cx="365.30" cy="822.47" r="1.36" fill="#8b0000"/>
<polyline points="270.60,823.96 317.90,794.97 365.30,829.16" fill="none" stroke="#ff0000" stroke-width="1.05" stroke-linejoin="round"/>
<circle cx="270.60" cy="823.96" r="1.36" fill="#ff0000"/>
<circle cx="317.90" cy="794.97" r="1.36" fill="#ff0000"/>
<circle cx="365.30" cy="829.16" r="1.36" fill="#ff0000"/>
<polyline points="270.60,754.08 317.90,847.00 365.30,847.00" fill="none" stroke="#1a8546" stroke-width="1.05" stroke-linejoin="round"/>
<circle cx="270.60" cy="754.08" r="1.36" fill="#047f10"/>
<circle cx="317.90" cy="847.00" r="1.36" fill="#047f10"/>
<circle cx="365.30" cy="847.00" r="1.36" fill="#047f10"/>
<line x1="369.4" y1="746" x2="377.0" y2="746" stroke="#0000ff" stroke-width="1.3"/>
<circle cx="373.2" cy="746" r="1.35" fill="#0000ff"/>
<text transform="translate(379.30,747.80) scale(1,1.07)" font-size="5.15" text-anchor="start" fill="#111" stroke="#111" stroke-width="0.1">RB1 p.P568S</text>
<line x1="369.4" y1="753.4" x2="377.0" y2="753.4" stroke="#8b0000" stroke-width="1.3"/>
<circle cx="373.2" cy="753.4" r="1.35" fill="#8b0000"/>
<text transform="translate(379.30,755.20) scale(1,1.07)" font-size="5.15" text-anchor="start" fill="#111" stroke="#111" stroke-width="0.1">FGFR3 p.A393_L400del</text>
<line x1="369.4" y1="761.3" x2="377.0" y2="761.3" stroke="#ff0000" stroke-width="1.3"/>
<circle cx="373.2" cy="761.3" r="1.35" fill="#ff0000"/>
<text transform="translate(379.30,763.10) scale(1,1.07)" font-size="5.15" text-anchor="start" fill="#111" stroke="#111" stroke-width="0.1">RB1 p.R73fs*?</text>
<line x1="369.4" y1="769.2" x2="377.0" y2="769.2" stroke="#1a8546" stroke-width="1.3"/>
<circle cx="373.2" cy="769.2" r="1.35" fill="#1a8546"/>
<text transform="translate(379.30,771.00) scale(1,1.07)" font-size="5.15" text-anchor="start" fill="#111" stroke="#111" stroke-width="0.1">FGFR3 p.R671_V672delinsVF</text>
<text x="543.10" y="724.00" font-size="7.4" font-weight="bold" text-anchor="middle" fill="#000" stroke="#000" stroke-width="0.15">Patient 37</text>
<line x1="462.5" y1="731.4" x2="462.5" y2="844.3" stroke="#6e6e6e" stroke-width="0.8"/>
<line x1="462.5" y1="844.3" x2="623" y2="844.3" stroke="#6e6e6e" stroke-width="0.8"/>
<line x1="460.5" y1="844.3" x2="462.5" y2="844.3" stroke="#6e6e6e" stroke-width="0.6"/>
<text transform="translate(460.10,846.33) scale(1,1.3)" font-size="4.6" font-weight="bold" text-anchor="end" fill="#111" stroke="#111" stroke-width="0.14">0</text>
<line x1="460.5" y1="821.7199999999999" x2="462.5" y2="821.7199999999999" stroke="#6e6e6e" stroke-width="0.6"/>
<text transform="translate(460.10,823.75) scale(1,1.3)" font-size="4.6" font-weight="bold" text-anchor="end" fill="#111" stroke="#111" stroke-width="0.14">1</text>
<line x1="460.5" y1="799.14" x2="462.5" y2="799.14" stroke="#6e6e6e" stroke-width="0.6"/>
<text transform="translate(460.10,801.17) scale(1,1.3)" font-size="4.6" font-weight="bold" text-anchor="end" fill="#111" stroke="#111" stroke-width="0.14">2</text>
<line x1="460.5" y1="776.56" x2="462.5" y2="776.56" stroke="#6e6e6e" stroke-width="0.6"/>
<text transform="translate(460.10,778.59) scale(1,1.3)" font-size="4.6" font-weight="bold" text-anchor="end" fill="#111" stroke="#111" stroke-width="0.14">3</text>
<line x1="460.5" y1="753.98" x2="462.5" y2="753.98" stroke="#6e6e6e" stroke-width="0.6"/>
<text transform="translate(460.10,756.01) scale(1,1.3)" font-size="4.6" font-weight="bold" text-anchor="end" fill="#111" stroke="#111" stroke-width="0.14">4</text>
<line x1="460.5" y1="731.4" x2="462.5" y2="731.4" stroke="#6e6e6e" stroke-width="0.6"/>
<text transform="translate(460.10,733.43) scale(1,1.3)" font-size="4.6" font-weight="bold" text-anchor="end" fill="#111" stroke="#111" stroke-width="0.14">5</text>
<line x1="494.4" y1="844.3" x2="494.4" y2="845.8" stroke="#6e6e6e" stroke-width="0.6"/>
<text transform="translate(494.40,852.20) scale(1,1.07)" font-size="6.2" font-weight="bold" text-anchor="middle" fill="#000" stroke="#000" stroke-width="0.12">Baseline</text>
<line x1="543.1" y1="844.3" x2="543.1" y2="845.8" stroke="#6e6e6e" stroke-width="0.6"/>
<text transform="translate(543.10,852.20) scale(1,1.07)" font-size="6.2" font-weight="bold" text-anchor="middle" fill="#000" stroke="#000" stroke-width="0.12">C3D1</text>
<line x1="590.8" y1="844.3" x2="590.8" y2="845.8" stroke="#6e6e6e" stroke-width="0.6"/>
<text transform="translate(590.80,852.20) scale(1,1.07)" font-size="6.2" font-weight="bold" text-anchor="middle" fill="#000" stroke="#000" stroke-width="0.12">Relapse</text>
<text x="0.00" y="0.00" font-size="5.85" font-weight="bold" text-anchor="middle" fill="#000" stroke="#000" stroke-width="0.12" transform="translate(454.92,788.20) rotate(-90)">Variant Allele Frequency (%)</text>
<polyline points="494.40,844.30 543.10,844.30 590.80,740.66" fill="none" stroke="#0000ff" stroke-width="1.16" stroke-linejoin="round"/>
<circle cx="494.40" cy="844.30" r="1.43" fill="#0000ff"/>
<circle cx="543.10" cy="844.30" r="1.43" fill="#0000ff"/>
<circle cx="590.80" cy="740.66" r="1.43" fill="#0000ff"/>
<polyline points="494.40,844.30 543.10,844.30 590.80,821.49" fill="none" stroke="#1a8546" stroke-width="1.16" stroke-linejoin="round"/>
<circle cx="494.40" cy="844.30" r="1.43" fill="#047f10"/>
<circle cx="543.10" cy="844.30" r="1.43" fill="#047f10"/>
<circle cx="590.80" cy="821.49" r="1.43" fill="#047f10"/>
<polyline points="494.40,799.82 543.10,844.30 590.80,844.30" fill="none" stroke="#ff0000" stroke-width="1.16" stroke-linejoin="round"/>
<circle cx="494.40" cy="799.82" r="1.43" fill="#ff0000"/>
<circle cx="543.10" cy="844.30" r="1.43" fill="#ff0000"/>
<circle cx="590.80" cy="844.30" r="1.43" fill="#ff0000"/>
<line x1="618.2" y1="741" x2="625.8" y2="741" stroke="#0000ff" stroke-width="1.3"/>
<circle cx="622" cy="741" r="1.35" fill="#0000ff"/>
<text transform="translate(628.30,742.86) scale(1,1.07)" font-size="5.3" text-anchor="start" fill="#111" stroke="#111" stroke-width="0.1">KRAS p.Q61H</text>
<line x1="618.2" y1="748.8" x2="625.8" y2="748.8" stroke="#1a8546" stroke-width="1.3"/>
<circle cx="622" cy="748.8" r="1.35" fill="#1a8546"/>
<text transform="translate(628.30,750.66) scale(1,1.07)" font-size="5.3" text-anchor="start" fill="#111" stroke="#111" stroke-width="0.1">ATM p.W1795R</text>
<line x1="618.2" y1="756.5" x2="625.8" y2="756.5" stroke="#ff0000" stroke-width="1.3"/>
<circle cx="622" cy="756.5" r="1.35" fill="#ff0000"/>
<text transform="translate(628.30,758.36) scale(1,1.07)" font-size="5.3" text-anchor="start" fill="#111" stroke="#111" stroke-width="0.1">PIK3CAp.F83fs*17</text>
<text x="88.90" y="893.80" font-size="7.19" font-weight="bold" text-anchor="middle" fill="#000" stroke="#000" stroke-width="0.15">Patient 40</text>
<line x1="13.4" y1="900.6" x2="13.4" y2="1006.4" stroke="#6e6e6e" stroke-width="0.8"/>
<line x1="13.4" y1="1006.4" x2="163.5" y2="1006.4" stroke="#6e6e6e" stroke-width="0.8"/>
<line x1="11.4" y1="1006.4" x2="13.4" y2="1006.4" stroke="#6e6e6e" stroke-width="0.6"/>
<text transform="translate(11.00,1008.08) scale(1,1.3)" font-size="3.8" font-weight="bold" text-anchor="end" fill="#111" stroke="#111" stroke-width="0.14">0</text>
<line x1="11.4" y1="971.1333333333333" x2="13.4" y2="971.1333333333333" stroke="#6e6e6e" stroke-width="0.6"/>
<text transform="translate(11.00,972.81) scale(1,1.3)" font-size="3.8" font-weight="bold" text-anchor="end" fill="#111" stroke="#111" stroke-width="0.14">10</text>
<line x1="11.4" y1="935.8666666666667" x2="13.4" y2="935.8666666666667" stroke="#6e6e6e" stroke-width="0.6"/>
<text transform="translate(11.00,937.55) scale(1,1.3)" font-size="3.8" font-weight="bold" text-anchor="end" fill="#111" stroke="#111" stroke-width="0.14">20</text>
<line x1="11.4" y1="900.6" x2="13.4" y2="900.6" stroke="#6e6e6e" stroke-width="0.6"/>
<text transform="translate(11.00,902.28) scale(1,1.3)" font-size="3.8" font-weight="bold" text-anchor="end" fill="#111" stroke="#111" stroke-width="0.14">30</text>
<line x1="56.1" y1="1006.4" x2="56.1" y2="1007.9" stroke="#6e6e6e" stroke-width="0.6"/>
<text transform="translate(56.10,1013.40) scale(1,1.07)" font-size="5.72" font-weight="bold" text-anchor="middle" fill="#000" stroke="#000" stroke-width="0.12">Baseline</text>
<line x1="120.9" y1="1006.4" x2="120.9" y2="1007.9" stroke="#6e6e6e" stroke-width="0.6"/>
<text transform="translate(120.90,1013.40) scale(1,1.07)" font-size="5.72" font-weight="bold" text-anchor="middle" fill="#000" stroke="#000" stroke-width="0.12">Relapse</text>
<text x="0.00" y="0.00" font-size="5.9" font-weight="bold" text-anchor="middle" fill="#000" stroke="#000" stroke-width="0.12" transform="translate(4.63,955.90) rotate(-90)">Variant Allele Frequency (%)</text>
<polyline points="56.10,999.35 120.90,998.22" fill="none" stroke="#0000ff" stroke-width="0.99" stroke-linejoin="round"/>
<circle cx="56.10" cy="999.35" r="1.32" fill="#0000ff"/>
<circle cx="120.90" cy="998.22" r="1.32" fill="#0000ff"/>
<polyline points="56.10,960.55 120.90,982.77" fill="none" stroke="#8b0000" stroke-width="0.99" stroke-linejoin="round"/>
<circle cx="56.10" cy="960.55" r="1.32" fill="#8b0000"/>
<circle cx="120.90" cy="982.77" r="1.32" fill="#8b0000"/>
<polyline points="56.10,1005.80 120.90,1004.81" fill="none" stroke="#ff0000" stroke-width="0.99" stroke-linejoin="round"/>
<circle cx="56.10" cy="1005.80" r="1.32" fill="#ff0000"/>
<circle cx="120.90" cy="1004.81" r="1.32" fill="#ff0000"/>
<polyline points="56.10,908.36 120.90,951.74" fill="none" stroke="#1a8546" stroke-width="0.99" stroke-linejoin="round"/>
<circle cx="56.10" cy="908.36" r="1.32" fill="#047f10"/>
<circle cx="120.90" cy="951.74" r="1.32" fill="#047f10"/>
<polyline points="56.10,1000.65 120.90,1006.40" fill="none" stroke="#ff8c00" stroke-width="0.99" stroke-linejoin="round"/>
<circle cx="56.10" cy="1000.65" r="1.32" fill="#ff8c00"/>
<circle cx="120.90" cy="1006.40" r="1.32" fill="#ff8c00"/>
<line x1="148.79999999999998" y1="911.4" x2="156.4" y2="911.4" stroke="#0000ff" stroke-width="1.3"/>
<circle cx="152.6" cy="911.4" r="1.35" fill="#0000ff"/>
<text transform="translate(158.40,913.13) scale(1,1.07)" font-size="4.95" text-anchor="start" fill="#111" stroke="#111" stroke-width="0.1">NRAS p.Q61K</text>
<line x1="148.79999999999998" y1="918.8" x2="156.4" y2="918.8" stroke="#8b0000" stroke-width="1.3"/>
<circle cx="152.6" cy="918.8" r="1.35" fill="#8b0000"/>
<text transform="translate(158.40,920.53) scale(1,1.07)" font-size="4.95" text-anchor="start" fill="#111" stroke="#111" stroke-width="0.1">NRAS p.G13R</text>
<line x1="148.79999999999998" y1="926" x2="156.4" y2="926" stroke="#ff0000" stroke-width="1.3"/>
<circle cx="152.6" cy="926" r="1.35" fill="#ff0000"/>
<text transform="translate(158.40,927.73) scale(1,1.07)" font-size="4.95" text-anchor="start" fill="#111" stroke="#111" stroke-width="0.1">ATR p.K2206fs*3</text>
<line x1="148.79999999999998" y1="933.3" x2="156.4" y2="933.3" stroke="#1a8546" stroke-width="1.3"/>
<circle cx="152.6" cy="933.3" r="1.35" fill="#1a8546"/>
<text transform="translate(158.40,935.03) scale(1,1.07)" font-size="4.95" text-anchor="start" fill="#111" stroke="#111" stroke-width="0.1">DIS3 p.V677G</text>
<line x1="148.79999999999998" y1="940.3" x2="156.4" y2="940.3" stroke="#ff8c00" stroke-width="1.3"/>
<circle cx="152.6" cy="940.3" r="1.35" fill="#ff8c00"/>
<text transform="translate(158.40,942.03) scale(1,1.07)" font-size="4.95" text-anchor="start" fill="#111" stroke="#111" stroke-width="0.1">FGFR3 p.R671_V672delinsVF</text>
<text x="318.90" y="894.00" font-size="7.3" font-weight="bold" text-anchor="middle" fill="#000" stroke="#000" stroke-width="0.15">Patient 41</text>
<line x1="239.4" y1="901.5" x2="239.4" y2="1013.3" stroke="#6e6e6e" stroke-width="0.8"/>
<line x1="239.4" y1="1013.3" x2="396.8" y2="1013.3" stroke="#6e6e6e" stroke-width="0.8"/>
<line x1="237.4" y1="1013.3" x2="239.4" y2="1013.3" stroke="#6e6e6e" stroke-width="0.6"/>
<text transform="translate(237.00,1015.29) scale(1,1.3)" font-size="4.5" font-weight="bold" text-anchor="end" fill="#111" stroke="#111" stroke-width="0.14">0.0</text>
<line x1="237.4" y1="990.9399999999999" x2="239.4" y2="990.9399999999999" stroke="#6e6e6e" stroke-width="0.6"/>
<text transform="translate(237.00,992.93) scale(1,1.3)" font-size="4.5" font-weight="bold" text-anchor="end" fill="#111" stroke="#111" stroke-width="0.14">0.5</text>
<line x1="237.4" y1="968.5799999999999" x2="239.4" y2="968.5799999999999" stroke="#6e6e6e" stroke-width="0.6"/>
<text transform="translate(237.00,970.57) scale(1,1.3)" font-size="4.5" font-weight="bold" text-anchor="end" fill="#111" stroke="#111" stroke-width="0.14">1.0</text>
<line x1="237.4" y1="946.22" x2="239.4" y2="946.22" stroke="#6e6e6e" stroke-width="0.6"/>
<text transform="translate(237.00,948.21) scale(1,1.3)" font-size="4.5" font-weight="bold" text-anchor="end" fill="#111" stroke="#111" stroke-width="0.14">1.5</text>
<line x1="237.4" y1="923.86" x2="239.4" y2="923.86" stroke="#6e6e6e" stroke-width="0.6"/>
<text transform="translate(237.00,925.85) scale(1,1.3)" font-size="4.5" font-weight="bold" text-anchor="end" fill="#111" stroke="#111" stroke-width="0.14">2.0</text>
<line x1="237.4" y1="901.5" x2="239.4" y2="901.5" stroke="#6e6e6e" stroke-width="0.6"/>
<text transform="translate(237.00,903.49) scale(1,1.3)" font-size="4.5" font-weight="bold" text-anchor="end" fill="#111" stroke="#111" stroke-width="0.14">2.5</text>
<line x1="270.9" y1="1013.3" x2="270.9" y2="1014.8" stroke="#6e6e6e" stroke-width="0.6"/>
<text transform="translate(270.90,1021.20) scale(1,1.07)" font-size="6.0" font-weight="bold" text-anchor="middle" fill="#000" stroke="#000" stroke-width="0.12">Baseline</text>
<line x1="319" y1="1013.3" x2="319" y2="1014.8" stroke="#6e6e6e" stroke-width="0.6"/>
<text transform="translate(319.00,1021.20) scale(1,1.07)" font-size="6.0" font-weight="bold" text-anchor="middle" fill="#000" stroke="#000" stroke-width="0.12">C3D1</text>
<line x1="366.6" y1="1013.3" x2="366.6" y2="1014.8" stroke="#6e6e6e" stroke-width="0.6"/>
<text transform="translate(366.60,1021.20) scale(1,1.07)" font-size="6.0" font-weight="bold" text-anchor="middle" fill="#000" stroke="#000" stroke-width="0.12">Relapse</text>
<text x="0.00" y="0.00" font-size="5.8" font-weight="bold" text-anchor="middle" fill="#000" stroke="#000" stroke-width="0.12" transform="translate(228.80,957.40) rotate(-90)">Variant Allele Frequency (%)</text>
<polyline points="270.90,1013.30 319.00,977.52 366.60,982.89" fill="none" stroke="#0000ff" stroke-width="1.09" stroke-linejoin="round"/>
<circle cx="270.90" cy="1013.30" r="1.38" fill="#0000ff"/>
<circle cx="319.00" cy="977.52" r="1.38" fill="#0000ff"/>
<circle cx="366.60" cy="982.89" r="1.38" fill="#0000ff"/>
<polyline points="270.90,1013.30 319.00,1013.30 366.60,922.97" fill="none" stroke="#8b0000" stroke-width="1.09" stroke-linejoin="round"/>
<circle cx="270.90" cy="1013.30" r="1.38" fill="#8b0000"/>
<circle cx="319.00" cy="1013.30" r="1.38" fill="#8b0000"/>
<circle cx="366.60" cy="922.97" r="1.38" fill="#8b0000"/>
<line x1="378.59999999999997" y1="908.2" x2="386.2" y2="908.2" stroke="#0000ff" stroke-width="1.3"/>
<circle cx="382.4" cy="908.2" r="1.35" fill="#0000ff"/>
<text transform="translate(388.70,910.00) scale(1,1.07)" font-size="5.15" text-anchor="start" fill="#111" stroke="#111" stroke-width="0.1">PRDM1 p.L220fs*14</text>
<line x1="378.59999999999997" y1="915.9" x2="386.2" y2="915.9" stroke="#8b0000" stroke-width="1.3"/>
<circle cx="382.4" cy="915.9" r="1.35" fill="#8b0000"/>
<text transform="translate(388.70,917.70) scale(1,1.07)" font-size="5.15" text-anchor="start" fill="#111" stroke="#111" stroke-width="0.1">GNAS p.Q352delinsRPLT</text>
<text x="558.90" y="885.80" font-size="8.34" font-weight="bold" text-anchor="middle" fill="#000" stroke="#000" stroke-width="0.15">Patient 42</text>
<line x1="468.2" y1="894.3" x2="468.2" y2="1021.5" stroke="#6e6e6e" stroke-width="0.8"/>
<line x1="468.2" y1="1021.5" x2="648.2" y2="1021.5" stroke="#6e6e6e" stroke-width="0.8"/>
<line x1="466.2" y1="1021.5" x2="468.2" y2="1021.5" stroke="#6e6e6e" stroke-width="0.6"/>
<text transform="translate(465.80,1023.44) scale(1,1.3)" font-size="4.4" font-weight="bold" text-anchor="end" fill="#111" stroke="#111" stroke-width="0.14">0.0</text>
<line x1="466.2" y1="989.7" x2="468.2" y2="989.7" stroke="#6e6e6e" stroke-width="0.6"/>
<text transform="translate(465.80,991.64) scale(1,1.3)" font-size="4.4" font-weight="bold" text-anchor="end" fill="#111" stroke="#111" stroke-width="0.14">0.5</text>
<line x1="466.2" y1="957.9" x2="468.2" y2="957.9" stroke="#6e6e6e" stroke-width="0.6"/>
<text transform="translate(465.80,959.84) scale(1,1.3)" font-size="4.4" font-weight="bold" text-anchor="end" fill="#111" stroke="#111" stroke-width="0.14">1.0</text>
<line x1="466.2" y1="926.0999999999999" x2="468.2" y2="926.0999999999999" stroke="#6e6e6e" stroke-width="0.6"/>
<text transform="translate(465.80,928.04) scale(1,1.3)" font-size="4.4" font-weight="bold" text-anchor="end" fill="#111" stroke="#111" stroke-width="0.14">1.5</text>
<line x1="466.2" y1="894.3" x2="468.2" y2="894.3" stroke="#6e6e6e" stroke-width="0.6"/>
<text transform="translate(465.80,896.24) scale(1,1.3)" font-size="4.4" font-weight="bold" text-anchor="end" fill="#111" stroke="#111" stroke-width="0.14">2.0</text>
<line x1="519.6" y1="1021.5" x2="519.6" y2="1023.0" stroke="#6e6e6e" stroke-width="0.6"/>
<text transform="translate(519.60,1030.10) scale(1,1.07)" font-size="6.75" font-weight="bold" text-anchor="middle" fill="#000" stroke="#000" stroke-width="0.12">Baseline</text>
<line x1="597.4" y1="1021.5" x2="597.4" y2="1023.0" stroke="#6e6e6e" stroke-width="0.6"/>
<text transform="translate(597.40,1030.10) scale(1,1.07)" font-size="6.75" font-weight="bold" text-anchor="middle" fill="#000" stroke="#000" stroke-width="0.12">Relapse</text>
<text x="0.00" y="0.00" font-size="6.6" font-weight="bold" text-anchor="middle" fill="#000" stroke="#000" stroke-width="0.12" transform="translate(455.96,958.00) rotate(-90)">Variant Allele Frequency (1%)</text>
<polyline points="519.60,932.46 597.40,921.65" fill="none" stroke="#0000ff" stroke-width="1.38" stroke-linejoin="round"/>
<circle cx="519.60" cy="932.46" r="1.55" fill="#0000ff"/>
<circle cx="597.40" cy="921.65" r="1.55" fill="#0000ff"/>
<polyline points="519.60,1021.50 597.40,931.82" fill="none" stroke="#8b0000" stroke-width="1.38" stroke-linejoin="round"/>
<circle cx="519.60" cy="1021.50" r="1.55" fill="#8b0000"/>
<circle cx="597.40" cy="931.82" r="1.55" fill="#8b0000"/>
<polyline points="519.60,989.70 597.40,998.60" fill="none" stroke="#ff0000" stroke-width="1.38" stroke-linejoin="round"/>
<circle cx="519.60" cy="989.70" r="1.55" fill="#ff0000"/>
<circle cx="597.40" cy="998.60" r="1.55" fill="#ff0000"/>
<polyline points="519.60,927.37 597.40,1021.50" fill="none" stroke="#ff00ff" stroke-width="1.38" stroke-linejoin="round"/>
<circle cx="519.60" cy="927.37" r="1.55" fill="#ff00ff"/>
<circle cx="597.40" cy="1021.50" r="1.55" fill="#ff00ff"/>
<line x1="613.7" y1="895.9" x2="621.3" y2="895.9" stroke="#0000ff" stroke-width="1.3"/>
<circle cx="617.5" cy="895.9" r="1.35" fill="#0000ff"/>
<text transform="translate(624.80,897.84) scale(1,1.07)" font-size="5.55" text-anchor="start" fill="#111" stroke="#111" stroke-width="0.1">DIS3 p.M1338fs*12</text>
<line x1="613.7" y1="905" x2="621.3" y2="905" stroke="#8b0000" stroke-width="1.3"/>
<circle cx="617.5" cy="905" r="1.35" fill="#8b0000"/>
<text transform="translate(624.80,906.94) scale(1,1.07)" font-size="5.55" text-anchor="start" fill="#111" stroke="#111" stroke-width="0.1">ATM p.W1795R</text>
<line x1="613.7" y1="913.7" x2="621.3" y2="913.7" stroke="#ff0000" stroke-width="1.3"/>
<circle cx="617.5" cy="913.7" r="1.35" fill="#ff0000"/>
<text transform="translate(624.80,915.64) scale(1,1.07)" font-size="5.55" text-anchor="start" fill="#111" stroke="#111" stroke-width="0.1">ATR p.K2206fs*3</text>
<line x1="613.7" y1="922.2" x2="621.3" y2="922.2" stroke="#ff00ff" stroke-width="1.3"/>
<circle cx="617.5" cy="922.2" r="1.35" fill="#ff00ff"/>
<text transform="translate(624.80,924.14) scale(1,1.07)" font-size="5.55" text-anchor="start" fill="#111" stroke="#111" stroke-width="0.1">TP53 p.F109S</text>
<text x="18.70" y="23.70" font-size="17" text-anchor="start" fill="#000" >A.</text>
<text x="461.70" y="15.60" font-size="17.2" text-anchor="start" fill="#000" >B.</text>
<text x="18.20" y="203.20" font-size="17.2" text-anchor="start" fill="#000" >C.</text>
<text x="246.30" y="203.00" font-size="17.2" text-anchor="start" fill="#000" >D.</text>
<text x="465.80" y="202.60" font-size="17.2" text-anchor="start" fill="#000" >E.</text>
<text x="18.20" y="392.30" font-size="17.2" text-anchor="start" fill="#000" >F.</text>
<text x="246.30" y="393.00" font-size="17.2" text-anchor="start" fill="#000" >G.</text>
<text x="466.10" y="389.80" font-size="17.2" text-anchor="start" fill="#000" >H.</text>
<text x="18.20" y="543.20" font-size="17.2" text-anchor="start" fill="#000" >I.</text>
<text x="246.30" y="544.50" font-size="17.2" text-anchor="start" fill="#000" >J.</text>
<text x="466.40" y="545.00" font-size="17.2" text-anchor="start" fill="#000" >K.</text>
<text x="12.90" y="709.60" font-size="17.2" text-anchor="start" fill="#000" >L.</text>
<text x="240.40" y="711.90" font-size="17.2" text-anchor="start" fill="#000" >M.</text>
<text x="460.50" y="712.20" font-size="17.2" text-anchor="start" fill="#000" >N.</text>
<text x="13.20" y="881.60" font-size="17.2" text-anchor="start" fill="#000" >O.</text>
<text x="240.40" y="883.00" font-size="17.2" text-anchor="start" fill="#000" >P.</text>
<text x="460.50" y="882.30" font-size="17.2" text-anchor="start" fill="#000" >Q.</text>
</svg></body></html>
